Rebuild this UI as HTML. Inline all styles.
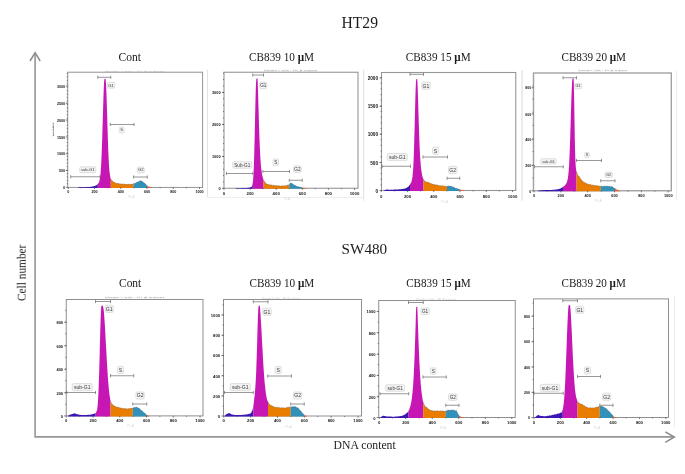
<!DOCTYPE html>
<html lang="en"><head><meta charset="utf-8"><title>Cell cycle analysis – HT29 and SW480</title>
<style>html,body{margin:0;padding:0;background:#fff}body{width:685px;height:474px;overflow:hidden}svg{display:block}</style></head>
<body>
<svg width="685" height="474" viewBox="0 0 685 474">
<defs><filter id="bl" x="-2%" y="-2%" width="104%" height="104%"><feGaussianBlur stdDeviation="0.5"/></filter><filter id="b2" x="-30%" y="-60%" width="160%" height="220%"><feGaussianBlur stdDeviation="0.8"/></filter><filter id="bt" x="-5%" y="-20%" width="110%" height="140%"><feGaussianBlur stdDeviation="0.3"/></filter></defs>
<rect width="685" height="474" fill="#fff"/>
<g filter="url(#bl)" font-family="'Liberation Sans', sans-serif">
<path d="M207.5 69.7 V196.7" stroke="#e9e9e9" stroke-width="0.9"/>
<clipPath id="c67"><rect x="102.5" y="70.7" width="63.5" height="1.6"/></clipPath>
<text clip-path="url(#c67)" x="104.5" y="73" font-size="4" textLength="59.5" lengthAdjust="spacingAndGlyphs" fill="#c4c4c4">Single Cells : PI-A subset</text>
<rect x="67.75" y="72.2" width="134.85" height="115.2" fill="none" stroke="#8e8e8e" stroke-width="0.95"/>
<path d="M78 187.95 L78 187.4 L78.25 187.39 L78.5 187.38 L78.75 187.38 L79 187.37 L79.25 187.36 L79.5 187.36 L79.75 187.35 L80.01 187.34 L80.26 187.34 L80.51 187.33 L80.76 187.32 L81.01 187.32 L81.26 187.31 L81.51 187.3 L81.76 187.29 L82.01 187.29 L82.26 187.28 L82.51 187.27 L82.76 187.27 L83.01 187.26 L83.26 187.25 L83.51 187.24 L83.76 187.23 L84.02 187.23 L84.27 187.22 L84.52 187.21 L84.77 187.2 L85.02 187.19 L85.27 187.18 L85.52 187.17 L85.77 187.16 L86.02 187.15 L86.27 187.14 L86.52 187.13 L86.77 187.12 L87.02 187.11 L87.27 187.1 L87.52 187.09 L87.77 187.07 L88.03 187.06 L88.28 187.05 L88.53 187.03 L88.78 187.01 L89.03 187 L89.28 186.98 L89.53 186.96 L89.78 186.94 L90.03 186.92 L90.28 186.89 L90.53 186.86 L90.78 186.82 L91.03 186.79 L91.28 186.75 L91.53 186.71 L91.78 186.67 L92.04 186.62 L92.29 186.58 L92.54 186.53 L92.79 186.47 L93.04 186.42 L93.29 186.36 L93.54 186.3 L93.79 186.23 L94.04 186.16 L94.29 186.09 L94.54 186.01 L94.79 185.92 L95.04 185.83 L95.29 185.73 L95.54 185.63 L95.79 185.51 L96.05 185.39 L96.3 185.23 L96.55 185.07 L96.8 184.89 L97.05 184.7 L97.3 184.49 L97.55 184.26 L97.8 184.01 L97.8 187.95 Z" fill="#3a18b4"/>
<path d="M97.75 187.95 L97.75 184.07 L98 183.79 L98.25 183.48 L98.5 183.12 L98.75 182.68 L99 182.15 L99.26 181.45 L99.51 180.57 L99.76 179.45 L100.01 178 L100.26 176.15 L100.51 173.8 L100.76 170.83 L101.01 167.16 L101.26 162.68 L101.51 157.36 L101.77 151.21 L102.02 144.36 L102.27 136.45 L102.52 127.98 L102.77 119.5 L103.02 111.16 L103.27 102.88 L103.52 95 L103.77 88.27 L104.02 83.3 L104.28 80.09 L104.53 79.02 L104.78 78.76 L105.03 78.6 L105.28 78.79 L105.53 79.02 L105.78 80.61 L106.03 83.97 L106.28 89 L106.53 95.71 L106.78 103.52 L107.04 111.71 L107.29 119.99 L107.54 128.41 L107.79 136.8 L108.04 144.59 L108.29 151.22 L108.54 156.75 L108.79 161.57 L109.04 165.88 L109.29 169.41 L109.55 171.96 L109.8 173.8 L110.05 175.45 L110.3 177.06 L110.55 178.3 L110.8 178.99 L110.8 187.95 Z" fill="#c617b3"/>
<path d="M110.75 187.95 L110.75 178.9 L111 179.25 L111.25 179.62 L111.5 180.19 L111.75 180.67 L112 180.77 L112.25 180.71 L112.5 180.9 L112.75 181.45 L113 181.95 L113.26 182.08 L113.51 182 L113.76 182.12 L114.01 182.47 L114.26 182.7 L114.51 182.55 L114.76 182.31 L115.01 182.39 L115.26 182.82 L115.51 183.16 L115.76 183.16 L116.01 183.06 L116.26 183.2 L116.51 183.55 L116.76 183.69 L117.01 183.43 L117.26 183.13 L117.51 183.17 L117.77 183.5 L118.02 183.69 L118.27 183.58 L118.52 183.48 L118.77 183.7 L119.02 184.08 L119.27 184.18 L119.52 183.89 L119.77 183.6 L120.02 183.66 L120.27 183.92 L120.52 183.98 L120.77 183.79 L121.02 183.7 L121.27 183.98 L121.52 184.37 L121.77 184.45 L122.02 184.18 L122.28 183.95 L122.53 184.05 L122.78 184.25 L123.03 184.2 L123.28 183.92 L123.53 183.84 L123.78 184.16 L124.03 184.54 L124.28 184.59 L124.53 184.33 L124.78 184.19 L125.03 184.34 L125.28 184.5 L125.53 184.34 L125.78 183.99 L126.03 183.9 L126.28 184.2 L126.53 184.54 L126.79 184.54 L127.04 184.32 L127.29 184.29 L127.54 184.53 L127.79 184.67 L128.04 184.43 L128.29 184.05 L128.54 183.97 L128.79 184.26 L129.04 184.51 L129.29 184.45 L129.54 184.27 L129.79 184.35 L130.04 184.65 L130.29 184.75 L130.54 184.45 L130.79 184.05 L131.04 183.96 L131.3 184.18 L131.55 184.3 L131.8 184.12 L132.05 183.93 L132.3 184.06 L132.55 184.4 L132.8 184.5 L133.05 184.19 L133.3 183.84 L133.55 183.78 L133.55 187.95 Z" fill="#e87d05"/>
<path d="M133.5 187.95 L133.5 183.77 L133.75 183.86 L134 183.84 L134.25 183.53 L134.5 183.21 L134.75 183.24 L135.01 183.52 L135.26 183.6 L135.51 183.28 L135.76 182.88 L136.01 182.76 L136.26 182.84 L136.51 182.73 L136.76 182.32 L137.01 181.99 L137.26 182.06 L137.51 182.34 L137.77 182.38 L138.02 182.08 L138.27 181.78 L138.52 181.77 L138.77 181.86 L139.02 181.67 L139.27 181.2 L139.52 180.87 L139.77 180.95 L140.02 181.19 L140.27 181.17 L140.53 180.87 L140.78 180.67 L141.03 180.8 L141.28 181.2 L141.53 181.24 L141.78 181.02 L142.03 181 L142.28 181.37 L142.53 181.83 L142.78 182 L143.03 181.98 L143.29 182.17 L143.54 182.65 L143.79 183.06 L144.04 183.08 L144.29 182.92 L144.54 183 L144.79 183.42 L145.04 183.83 L145.29 183.95 L145.54 183.97 L145.79 184.28 L146.05 184.88 L146.3 185.34 L146.55 185.4 L146.8 185.29 L147.05 185.61 L147.3 185.82 L147.3 187.95 Z" fill="#3391b8"/>
<path d="M147.25 187.95 L147.25 185.8 L147.5 185.92 L147.76 186.04 L148.01 186.16 L148.26 186.28 L148.51 186.4 L148.77 186.52 L149.02 186.64 L149.27 186.76 L149.52 186.87 L149.78 186.99 L150.03 187.1 L150.28 187.14 L150.53 187.18 L150.79 187.22 L151.04 187.26 L151.29 187.29 L151.54 187.33 L151.8 187.37 L152.05 187.4 L152.05 187.95 Z" fill="#e8602a"/>
<path d="M110.75 178.9 L111 179.25 L111.25 179.62 L111.5 180.19 L111.75 180.67 L112 180.77 L112.25 180.71 L112.5 180.9 L112.75 181.45 L113 181.95 L113.26 182.08 L113.51 182 L113.76 182.12 L114.01 182.47 L114.26 182.7 L114.51 182.55 L114.76 182.31 L115.01 182.39 L115.26 182.82 L115.51 183.16 L115.76 183.16 L116.01 183.06 L116.26 183.2 L116.51 183.55 L116.76 183.69 L117.01 183.43 L117.26 183.13 L117.51 183.17 L117.77 183.5 L118.02 183.69 L118.27 183.58 L118.52 183.48 L118.77 183.7 L119.02 184.08 L119.27 184.18 L119.52 183.89 L119.77 183.6 L120.02 183.66 L120.27 183.92 L120.52 183.98 L120.77 183.79 L121.02 183.7 L121.27 183.98 L121.52 184.37 L121.77 184.45 L122.02 184.18 L122.28 183.95 L122.53 184.05 L122.78 184.25 L123.03 184.2 L123.28 183.92 L123.53 183.84 L123.78 184.16 L124.03 184.54 L124.28 184.59 L124.53 184.33 L124.78 184.19 L125.03 184.34 L125.28 184.5 L125.53 184.34 L125.78 183.99 L126.03 183.9 L126.28 184.2 L126.53 184.54 L126.79 184.54 L127.04 184.32 L127.29 184.29 L127.54 184.53 L127.79 184.67 L128.04 184.43 L128.29 184.05 L128.54 183.97 L128.79 184.26 L129.04 184.51 L129.29 184.45 L129.54 184.27 L129.79 184.35 L130.04 184.65 L130.29 184.75 L130.54 184.45 L130.79 184.05 L131.04 183.96 L131.3 184.18 L131.55 184.3 L131.8 184.12 L132.05 183.93 L132.3 184.06 L132.55 184.4 L132.8 184.5 L133.05 184.19 L133.3 183.84 L133.55 183.78" fill="none" stroke="#5a2a10" stroke-opacity="0.6" stroke-width="0.5"/>
<path d="M133.5 183.77 L133.75 183.86 L134 183.84 L134.25 183.53 L134.5 183.21 L134.75 183.24 L135.01 183.52 L135.26 183.6 L135.51 183.28 L135.76 182.88 L136.01 182.76 L136.26 182.84 L136.51 182.73 L136.76 182.32 L137.01 181.99 L137.26 182.06 L137.51 182.34 L137.77 182.38 L138.02 182.08 L138.27 181.78 L138.52 181.77 L138.77 181.86 L139.02 181.67 L139.27 181.2 L139.52 180.87 L139.77 180.95 L140.02 181.19 L140.27 181.17 L140.53 180.87 L140.78 180.67 L141.03 180.8 L141.28 181.2 L141.53 181.24 L141.78 181.02 L142.03 181 L142.28 181.37 L142.53 181.83 L142.78 182 L143.03 181.98 L143.29 182.17 L143.54 182.65 L143.79 183.06 L144.04 183.08 L144.29 182.92 L144.54 183 L144.79 183.42 L145.04 183.83 L145.29 183.95 L145.54 183.97 L145.79 184.28 L146.05 184.88 L146.3 185.34 L146.55 185.4 L146.8 185.29 L147.05 185.61 L147.3 185.82" fill="none" stroke="#123a50" stroke-opacity="0.6" stroke-width="0.5"/>
<text x="68.25" y="193.09" font-size="3.7" text-anchor="middle" font-weight="bold" fill="#151515">0</text>
<text x="94.5" y="193.09" font-size="3.7" text-anchor="middle" font-weight="bold" fill="#151515">200</text>
<text x="120.75" y="193.09" font-size="3.7" text-anchor="middle" font-weight="bold" fill="#151515">400</text>
<text x="147" y="193.09" font-size="3.7" text-anchor="middle" font-weight="bold" fill="#151515">600</text>
<text x="173.25" y="193.09" font-size="3.7" text-anchor="middle" font-weight="bold" fill="#151515">800</text>
<text x="199.5" y="193.09" font-size="3.7" text-anchor="middle" font-weight="bold" fill="#151515">1000</text>
<text x="65.1" y="87.68" font-size="3.7" text-anchor="end" font-weight="bold" fill="#151515">3000</text>
<text x="65.1" y="104.93" font-size="3.7" text-anchor="end" font-weight="bold" fill="#151515">2500</text>
<text x="65.1" y="121.68" font-size="3.7" text-anchor="end" font-weight="bold" fill="#151515">2000</text>
<text x="65.1" y="138.68" font-size="3.7" text-anchor="end" font-weight="bold" fill="#151515">1500</text>
<text x="65.1" y="155.43" font-size="3.7" text-anchor="end" font-weight="bold" fill="#151515">1000</text>
<text x="65.1" y="172.18" font-size="3.7" text-anchor="end" font-weight="bold" fill="#151515">500</text>
<text x="65.1" y="188.98" font-size="3.7" text-anchor="end" font-weight="bold" fill="#151515">0</text>
<path d="M68.25 187.4 v1.6 M81.38 187.4 v0.9 M94.5 187.4 v1.6 M107.62 187.4 v0.9 M120.75 187.4 v1.6 M133.88 187.4 v0.9 M147 187.4 v1.6 M160.12 187.4 v0.9 M173.25 187.4 v1.6 M186.38 187.4 v0.9 M199.5 187.4 v1.6 M67.75 86 h-2 M67.75 103.25 h-2 M67.75 120 h-2 M67.75 137 h-2 M67.75 153.75 h-2 M67.75 170.5 h-2 M67.75 187.3 h-2 M67.75 183.85 h-1 M67.75 180.4 h-1 M67.75 176.95 h-1 M67.75 173.5 h-1 M67.75 170.05 h-1 M67.75 166.6 h-1 M67.75 163.15 h-1 M67.75 159.7 h-1 M67.75 156.25 h-1 M67.75 152.8 h-1 M67.75 149.35 h-1 M67.75 145.9 h-1 M67.75 142.45 h-1 M67.75 139 h-1 M67.75 135.55 h-1 M67.75 132.1 h-1 M67.75 128.65 h-1 M67.75 125.2 h-1 M67.75 121.75 h-1 M67.75 118.3 h-1 M67.75 114.85 h-1 M67.75 111.4 h-1 M67.75 107.95 h-1 M67.75 104.5 h-1 M67.75 101.05 h-1 M67.75 97.6 h-1 M67.75 94.15 h-1 M67.75 90.7 h-1 M67.75 87.25 h-1 M67.75 83.8 h-1 M67.75 80.35 h-1 M67.75 76.9 h-1 M67.75 73.45 h-1" stroke="#444" stroke-width="0.7" fill="none"/>
<clipPath id="cy67"><rect x="52.65" y="121" width="1.5" height="18"/></clipPath>
<g clip-path="url(#cy67)"><text transform="translate(54 129.7) rotate(-90)" font-size="5.2" textLength="13.6" lengthAdjust="spacingAndGlyphs" text-anchor="middle" fill="#222">Count</text></g>
<text x="131.18" y="198.4" font-size="3.4" text-anchor="middle" fill="#d8d8d8">PI-A</text>
<path d="M97.75 77.25 H110.75 M97.75 75.65 V78.85 M110.75 75.65 V78.85" stroke="#5e5e5e" stroke-width="0.65" fill="none"/>
<rect x="107.2" y="82.33" width="7.6" height="5.84" rx="1.4" fill="#f3f3f3" stroke="#cfcfcf" stroke-width="0.6"/><text x="111" y="86.69" font-size="4.16" text-anchor="middle" fill="#3a3a3a">G1</text>
<path d="M110.25 124.5 H134 M110.25 122.9 V126.1 M134 122.9 V126.1" stroke="#5e5e5e" stroke-width="0.65" fill="none"/>
<rect x="119.27" y="127.08" width="4.96" height="5.84" rx="1.4" fill="#f3f3f3" stroke="#cfcfcf" stroke-width="0.6"/><text x="121.75" y="131.44" font-size="4.16" text-anchor="middle" fill="#3a3a3a">S</text>
<path d="M70.75 176.75 H100 M70.75 175.15 V178.35 M100 175.15 V178.35" stroke="#5e5e5e" stroke-width="0.65" fill="none"/>
<rect x="79.7" y="166.83" width="16.1" height="5.84" rx="1.4" fill="#f3f3f3" stroke="#cfcfcf" stroke-width="0.6"/><text x="87.75" y="171.19" font-size="4.16" text-anchor="middle" fill="#3a3a3a">sub-G1</text>
<path d="M133.5 177 H147.25 M133.5 175.4 V178.6 M147.25 175.4 V178.6" stroke="#5e5e5e" stroke-width="0.65" fill="none"/>
<rect x="137.2" y="167.08" width="7.1" height="5.84" rx="1.4" fill="#f3f3f3" stroke="#cfcfcf" stroke-width="0.6"/><text x="140.75" y="171.44" font-size="4.16" text-anchor="middle" fill="#3a3a3a">G2</text>
<path d="M207.5 69.75 V197.5" stroke="#e2e2e2" stroke-width="0.9"/>
<path d="M363.6 69.75 V197.5" stroke="#e9e9e9" stroke-width="0.9"/>
<path d="M207.5 197.5 H363.6" stroke="#ececec" stroke-width="0.9"/>
<clipPath id="c224"><rect x="261.75" y="69.7" width="57.75" height="1.6"/></clipPath>
<text clip-path="url(#c224)" x="263.75" y="72" font-size="4" textLength="53.75" lengthAdjust="spacingAndGlyphs" fill="#999">Single Cells : PI-A subset</text>
<rect x="224" y="72.25" width="134" height="116" fill="none" stroke="#969696" stroke-width="1.1"/>
<path d="M236 188.8 L236 188.25 L236.25 188.24 L236.5 188.24 L236.75 188.23 L237 188.22 L237.25 188.22 L237.5 188.21 L237.76 188.2 L238.01 188.2 L238.26 188.19 L238.51 188.19 L238.76 188.18 L239.01 188.17 L239.26 188.17 L239.51 188.16 L239.76 188.15 L240.01 188.15 L240.26 188.14 L240.51 188.13 L240.76 188.13 L241.01 188.12 L241.27 188.11 L241.52 188.11 L241.77 188.1 L242.02 188.09 L242.27 188.08 L242.52 188.08 L242.77 188.07 L243.02 188.06 L243.27 188.05 L243.52 188.05 L243.77 188.04 L244.02 188.03 L244.27 188.02 L244.53 188.01 L244.78 188 L245.03 187.99 L245.28 187.98 L245.53 187.97 L245.78 187.96 L246.03 187.95 L246.28 187.94 L246.53 187.93 L246.78 187.91 L247.03 187.9 L247.28 187.88 L247.53 187.87 L247.79 187.85 L248.04 187.83 L248.29 187.78 L248.54 187.74 L248.79 187.69 L249.04 187.64 L249.29 187.59 L249.54 187.54 L249.79 187.48 L250.04 187.42 L250.29 187.35 L250.54 187.27 L250.79 187.18 L251.04 187.07 L251.3 186.92 L251.55 186.71 L251.8 186.4 L252.05 185.93 L252.3 185.23 L252.55 184.16 L252.8 182.58 L252.8 188.8 Z" fill="#3a18b4"/>
<path d="M252.75 188.8 L252.75 182.94 L253 180.82 L253.25 177.83 L253.5 173.75 L253.75 168.38 L254.01 161.56 L254.26 153.27 L254.51 143.58 L254.76 132.78 L255.01 121.34 L255.26 109.91 L255.51 99.24 L255.76 90.14 L256.02 83.34 L256.27 79.4 L256.52 78.58 L256.77 78.54 L257.02 78.5 L257.27 78.48 L257.52 78.46 L257.77 83.96 L258.02 92.16 L258.28 100.55 L258.53 109.04 L258.78 117.42 L259.03 125.52 L259.28 133.13 L259.53 140.11 L259.78 146.36 L260.03 151.84 L260.28 156.56 L260.54 160.56 L260.79 163.92 L261.04 166.74 L261.29 169.1 L261.54 171.08 L261.79 172.77 L262.04 174.22 L262.29 175.47 L262.55 176.57 L262.8 177.54 L263.05 178.36 L263.3 179.44 L263.55 180.07 L263.55 188.8 Z" fill="#c617b3"/>
<path d="M263.5 188.8 L263.5 179.98 L263.75 180.35 L264 180.77 L264.25 181.43 L264.5 182.02 L264.75 182.22 L265 182.19 L265.25 182.39 L265.5 182.94 L265.75 183.5 L266 183.7 L266.26 183.69 L266.51 183.85 L266.76 184.25 L267.01 184.53 L267.26 184.4 L267.51 184.11 L267.76 184.1 L268.01 184.43 L268.26 184.72 L268.51 184.68 L268.76 184.55 L269.01 184.67 L269.26 185.03 L269.51 185.2 L269.76 184.96 L270.01 184.61 L270.26 184.61 L270.51 184.89 L270.76 185.07 L271.01 184.95 L271.27 184.83 L271.52 185.04 L271.77 185.47 L272.02 185.66 L272.27 185.45 L272.52 185.17 L272.77 185.2 L273.02 185.44 L273.27 185.49 L273.52 185.26 L273.77 185.12 L274.02 185.36 L274.27 185.79 L274.52 185.95 L274.77 185.74 L275.02 185.54 L275.27 185.65 L275.52 185.86 L275.77 185.81 L276.02 185.5 L276.27 185.34 L276.53 185.6 L276.78 186 L277.03 186.11 L277.28 185.92 L277.53 185.82 L277.78 186.02 L278.03 186.23 L278.28 186.09 L278.53 185.71 L278.78 185.53 L279.03 185.76 L279.28 186.08 L279.53 186.1 L279.78 185.91 L280.03 185.9 L280.28 186.17 L280.53 186.37 L280.78 186.19 L281.03 185.8 L281.28 185.64 L281.53 185.86 L281.79 186.09 L282.04 186.02 L282.29 185.83 L282.54 185.9 L282.79 186.24 L283.04 186.46 L283.29 186.26 L283.54 185.9 L283.79 185.79 L284.04 185.99 L284.29 186.06 L284.54 185.84 L284.79 185.58 L285.04 185.65 L285.29 185.99 L285.54 186.15 L285.79 185.91 L286.04 185.55 L286.29 185.47 L286.54 185.61 L286.8 185.59 L287.05 185.27 L287.3 184.99 L287.55 185.1 L287.8 185.45 L288.05 185.57 L288.3 185.25 L288.55 184.89 L288.8 184.82 L289.05 184.9 L289.3 184.72 L289.3 188.8 Z" fill="#e87d05"/>
<path d="M289.25 188.8 L289.25 184.78 L289.5 184.34 L289.75 183.7 L290 183.45 L290.25 183.47 L290.5 183.32 L290.76 182.85 L291.01 182.87 L291.26 183.18 L291.51 183.62 L291.76 183.79 L292.01 183.61 L292.26 183.5 L292.51 183.8 L292.76 184.3 L293.01 184.58 L293.27 184.53 L293.52 184.57 L293.77 184.92 L294.02 185.34 L294.27 185.41 L294.52 185.15 L294.77 185.02 L295.02 185.26 L295.27 185.63 L295.52 185.74 L295.77 185.64 L296.03 185.74 L296.28 186.18 L296.53 186.62 L296.78 186.34 L297.03 186.46 L297.28 186.52 L297.53 186.58 L297.78 186.63 L298.03 186.69 L298.28 186.75 L298.54 186.81 L298.79 186.87 L299.04 186.93 L299.29 186.99 L299.54 187.05 L299.79 187.11 L300.04 187.17 L300.29 187.22 L300.54 187.28 L300.79 187.34 L301.05 187.4 L301.3 187.46 L301.55 187.5 L301.8 187.55 L302.05 187.6 L302.3 187.64 L302.3 188.8 Z" fill="#3391b8"/>
<path d="M302.25 188.8 L302.25 187.63 L302.5 187.68 L302.76 187.72 L303.01 187.77 L303.26 187.82 L303.52 187.86 L303.77 187.91 L304.02 187.95 L304.28 187.99 L304.53 188.03 L304.78 188.07 L305.04 188.11 L305.29 188.14 L305.54 188.18 L305.8 188.22 L306.05 188.25 L306.05 188.8 Z" fill="#e8602a"/>
<path d="M263.5 179.98 L263.75 180.35 L264 180.77 L264.25 181.43 L264.5 182.02 L264.75 182.22 L265 182.19 L265.25 182.39 L265.5 182.94 L265.75 183.5 L266 183.7 L266.26 183.69 L266.51 183.85 L266.76 184.25 L267.01 184.53 L267.26 184.4 L267.51 184.11 L267.76 184.1 L268.01 184.43 L268.26 184.72 L268.51 184.68 L268.76 184.55 L269.01 184.67 L269.26 185.03 L269.51 185.2 L269.76 184.96 L270.01 184.61 L270.26 184.61 L270.51 184.89 L270.76 185.07 L271.01 184.95 L271.27 184.83 L271.52 185.04 L271.77 185.47 L272.02 185.66 L272.27 185.45 L272.52 185.17 L272.77 185.2 L273.02 185.44 L273.27 185.49 L273.52 185.26 L273.77 185.12 L274.02 185.36 L274.27 185.79 L274.52 185.95 L274.77 185.74 L275.02 185.54 L275.27 185.65 L275.52 185.86 L275.77 185.81 L276.02 185.5 L276.27 185.34 L276.53 185.6 L276.78 186 L277.03 186.11 L277.28 185.92 L277.53 185.82 L277.78 186.02 L278.03 186.23 L278.28 186.09 L278.53 185.71 L278.78 185.53 L279.03 185.76 L279.28 186.08 L279.53 186.1 L279.78 185.91 L280.03 185.9 L280.28 186.17 L280.53 186.37 L280.78 186.19 L281.03 185.8 L281.28 185.64 L281.53 185.86 L281.79 186.09 L282.04 186.02 L282.29 185.83 L282.54 185.9 L282.79 186.24 L283.04 186.46 L283.29 186.26 L283.54 185.9 L283.79 185.79 L284.04 185.99 L284.29 186.06 L284.54 185.84 L284.79 185.58 L285.04 185.65 L285.29 185.99 L285.54 186.15 L285.79 185.91 L286.04 185.55 L286.29 185.47 L286.54 185.61 L286.8 185.59 L287.05 185.27 L287.3 184.99 L287.55 185.1 L287.8 185.45 L288.05 185.57 L288.3 185.25 L288.55 184.89 L288.8 184.82 L289.05 184.9 L289.3 184.72" fill="none" stroke="#5a2a10" stroke-opacity="0.6" stroke-width="0.5"/>
<path d="M289.25 184.78 L289.5 184.34 L289.75 183.7 L290 183.45 L290.25 183.47 L290.5 183.32 L290.76 182.85 L291.01 182.87 L291.26 183.18 L291.51 183.62 L291.76 183.79 L292.01 183.61 L292.26 183.5 L292.51 183.8 L292.76 184.3 L293.01 184.58 L293.27 184.53 L293.52 184.57 L293.77 184.92 L294.02 185.34 L294.27 185.41 L294.52 185.15 L294.77 185.02 L295.02 185.26 L295.27 185.63 L295.52 185.74 L295.77 185.64 L296.03 185.74 L296.28 186.18 L296.53 186.62 L296.78 186.34 L297.03 186.46 L297.28 186.52 L297.53 186.58 L297.78 186.63 L298.03 186.69 L298.28 186.75 L298.54 186.81 L298.79 186.87 L299.04 186.93 L299.29 186.99 L299.54 187.05 L299.79 187.11 L300.04 187.17 L300.29 187.22 L300.54 187.28 L300.79 187.34 L301.05 187.4 L301.3 187.46 L301.55 187.5 L301.8 187.55 L302.05 187.6 L302.3 187.64" fill="none" stroke="#123a50" stroke-opacity="0.6" stroke-width="0.5"/>
<text x="224" y="195.31" font-size="4.3" text-anchor="middle" font-weight="bold" fill="#151515">0</text>
<text x="250.1" y="195.31" font-size="4.3" text-anchor="middle" font-weight="bold" fill="#151515">200</text>
<text x="276.2" y="195.31" font-size="4.3" text-anchor="middle" font-weight="bold" fill="#151515">400</text>
<text x="302.3" y="195.31" font-size="4.3" text-anchor="middle" font-weight="bold" fill="#151515">600</text>
<text x="328.4" y="195.31" font-size="4.3" text-anchor="middle" font-weight="bold" fill="#151515">800</text>
<text x="354.5" y="195.31" font-size="4.3" text-anchor="middle" font-weight="bold" fill="#151515">1000</text>
<text x="220.6" y="94.25" font-size="3.9" text-anchor="end" font-weight="bold" fill="#151515">3000</text>
<text x="220.6" y="126.25" font-size="3.9" text-anchor="end" font-weight="bold" fill="#151515">2000</text>
<text x="220.6" y="158.25" font-size="3.9" text-anchor="end" font-weight="bold" fill="#151515">1000</text>
<text x="220.6" y="190.15" font-size="3.9" text-anchor="end" font-weight="bold" fill="#151515">0</text>
<path d="M224 188.25 v1.6 M237.05 188.25 v0.9 M250.1 188.25 v1.6 M263.15 188.25 v0.9 M276.2 188.25 v1.6 M289.25 188.25 v0.9 M302.3 188.25 v1.6 M315.35 188.25 v0.9 M328.4 188.25 v1.6 M341.45 188.25 v0.9 M354.5 188.25 v1.6 M224 92.5 h-2 M224 124.5 h-2 M224 156.5 h-2 M224 188.25 h-2 M224 182 h-1 M224 175.6 h-1 M224 169.2 h-1 M224 162.8 h-1 M224 156.4 h-1 M224 150 h-1 M224 143.6 h-1 M224 137.2 h-1 M224 130.8 h-1 M224 124.4 h-1 M224 118 h-1 M224 111.6 h-1 M224 105.2 h-1 M224 98.8 h-1 M224 92.4 h-1 M224 86 h-1 M224 79.6 h-1 M224 73.2 h-1" stroke="#444" stroke-width="0.7" fill="none"/>
<text x="287" y="200.4" font-size="3.4" text-anchor="middle" fill="#d8d8d8">PI-A</text>
<path d="M252.75 75 H263.5 M252.75 73.4 V76.6 M263.5 73.4 V76.6" stroke="#5e5e5e" stroke-width="0.65" fill="none"/>
<rect x="259.7" y="82.09" width="7.1" height="6.57" rx="1.4" fill="#f3f3f3" stroke="#cfcfcf" stroke-width="0.6"/><text x="263.25" y="87" font-size="4.68" text-anchor="middle" fill="#3a3a3a">G1</text>
<path d="M262.75 171.5 H289.5 M262.75 169.9 V173.1 M289.5 169.9 V173.1" stroke="#5e5e5e" stroke-width="0.65" fill="none"/>
<rect x="272.96" y="158.97" width="5.58" height="6.57" rx="1.4" fill="#f3f3f3" stroke="#cfcfcf" stroke-width="0.6"/><text x="275.75" y="163.87" font-size="4.68" text-anchor="middle" fill="#3a3a3a">S</text>
<path d="M226.5 173.5 H252.75 M226.5 171.9 V175.1 M252.75 171.9 V175.1" stroke="#5e5e5e" stroke-width="0.65" fill="none"/>
<rect x="232.7" y="161.72" width="19.1" height="6.57" rx="1.4" fill="#f3f3f3" stroke="#cfcfcf" stroke-width="0.6"/><text x="242.25" y="166.62" font-size="4.68" text-anchor="middle" fill="#3a3a3a">Sub-G1</text>
<path d="M289.25 180.25 H302.25 M289.25 178.65 V181.85 M302.25 178.65 V181.85" stroke="#5e5e5e" stroke-width="0.65" fill="none"/>
<rect x="293.45" y="165.84" width="7.85" height="6.57" rx="1.4" fill="#f3f3f3" stroke="#cfcfcf" stroke-width="0.6"/><text x="297.38" y="170.75" font-size="4.68" text-anchor="middle" fill="#3a3a3a">G2</text>
<path d="M363.6 70 V200.9" stroke="#e2e2e2" stroke-width="0.9"/>
<path d="M522 70 V200.9" stroke="#e9e9e9" stroke-width="0.9"/>
<rect x="381.5" y="72.5" width="134.25" height="118" fill="none" stroke="#969696" stroke-width="1.1"/>
<path d="M384 191.05 L384 190.5 L384.25 190.41 L384.5 190.32 L384.75 190.23 L385 190.14 L385.25 190.05 L385.5 189.96 L385.75 189.87 L386 189.78 L386.25 189.69 L386.5 189.6 L386.76 189.6 L387.01 189.61 L387.26 189.61 L387.51 189.62 L387.76 189.62 L388.01 189.63 L388.26 189.63 L388.51 189.63 L388.76 189.64 L389.01 189.64 L389.26 189.65 L389.51 189.65 L389.76 189.66 L390.01 189.66 L390.26 189.67 L390.51 189.67 L390.76 189.67 L391.01 189.68 L391.26 189.68 L391.51 189.69 L391.76 189.69 L392.02 189.69 L392.27 189.68 L392.52 189.67 L392.77 189.66 L393.02 189.65 L393.27 189.64 L393.52 189.63 L393.77 189.62 L394.02 189.61 L394.27 189.6 L394.52 189.59 L394.77 189.58 L395.02 189.57 L395.27 189.56 L395.52 189.55 L395.77 189.54 L396.02 189.52 L396.27 189.51 L396.52 189.5 L396.77 189.49 L397.02 189.48 L397.28 189.46 L397.53 189.45 L397.78 189.44 L398.03 189.42 L398.28 189.41 L398.53 189.4 L398.78 189.38 L399.03 189.36 L399.28 189.35 L399.53 189.33 L399.78 189.31 L400.03 189.3 L400.28 189.27 L400.53 189.24 L400.78 189.21 L401.03 189.18 L401.28 189.15 L401.53 189.12 L401.78 189.09 L402.03 189.05 L402.29 189.02 L402.54 188.98 L402.79 188.94 L403.04 188.9 L403.29 188.85 L403.54 188.8 L403.79 188.75 L404.04 188.7 L404.29 188.64 L404.54 188.58 L404.79 188.52 L405.04 188.45 L405.29 188.37 L405.54 188.29 L405.79 188.21 L406.04 188.11 L406.29 187.97 L406.54 187.83 L406.79 187.67 L407.04 187.51 L407.29 187.33 L407.55 187.15 L407.8 186.95 L408.05 186.74 L408.3 186.51 L408.55 186.62 L408.8 186.42 L409.05 185.83 L409.3 185.22 L409.55 184.93 L409.8 184.81 L410.05 184.45 L410.05 191.05 Z" fill="#3a18b4"/>
<path d="M410 191.05 L410 184.55 L410.25 183.94 L410.5 183.33 L410.75 183.08 L411 182.96 L411.25 182.51 L411.51 181.56 L411.76 180.44 L412.01 179.42 L412.26 178.26 L412.51 176.46 L412.76 173.84 L413.01 170.64 L413.26 166.97 L413.51 162.41 L413.76 156.41 L414.01 148.89 L414.27 140.31 L414.52 131.1 L414.77 121.37 L415.02 111.22 L415.27 101.27 L415.52 92.53 L415.77 85.75 L416.02 80.99 L416.27 79.25 L416.52 79.02 L416.77 78.93 L417.03 79.14 L417.28 79.3 L417.53 83.88 L417.78 90.76 L418.03 98.42 L418.28 106.81 L418.53 115.34 L418.78 123.42 L419.03 130.96 L419.28 138.14 L419.54 144.88 L419.79 150.7 L420.04 155.33 L420.29 159.06 L420.54 162.4 L420.79 165.5 L421.04 168.08 L421.29 169.97 L421.54 171.51 L421.79 173.13 L422.04 174.8 L422.3 176.11 L422.55 176.9 L422.8 177.47 L423.05 178.22 L423.3 179.01 L423.55 179.59 L423.55 191.05 Z" fill="#c617b3"/>
<path d="M423.5 191.05 L423.5 179.5 L423.75 179.78 L424 179.95 L424.25 180.41 L424.5 181.12 L424.75 181.62 L425 181.68 L425.25 181.58 L425.5 181.72 L425.75 182.05 L426.01 182.18 L426.26 181.97 L426.51 181.76 L426.76 181.93 L427.01 182.33 L427.26 182.53 L427.51 182.35 L427.76 182.11 L428.01 182.16 L428.26 182.56 L428.51 182.68 L428.76 182.47 L429.01 182.34 L429.26 182.61 L429.51 183.09 L429.76 183.33 L430.01 183.27 L430.26 183.27 L430.51 183.56 L430.77 183.91 L431.02 183.93 L431.27 183.63 L431.52 183.46 L431.77 183.68 L432.02 184.04 L432.27 184.15 L432.52 184.02 L432.77 184.06 L433.02 184.41 L433.27 184.77 L433.52 184.74 L433.77 184.42 L434.02 184.28 L434.27 184.47 L434.52 184.73 L434.77 184.7 L435.02 184.51 L435.27 184.58 L435.53 184.98 L435.78 185.33 L436.03 185.27 L436.28 184.98 L436.53 184.89 L436.78 185.11 L437.03 185.27 L437.28 185.12 L437.53 184.89 L437.78 184.99 L438.03 185.41 L438.28 185.73 L438.53 185.67 L438.78 185.44 L439.03 185.45 L439.28 185.7 L439.53 185.79 L439.78 185.55 L440.04 185.29 L440.29 185.38 L440.54 185.78 L440.79 186.04 L441.04 185.94 L441.29 185.77 L441.54 185.89 L441.79 186.16 L442.04 186.2 L442.29 185.88 L442.54 185.6 L442.79 185.7 L443.04 186.05 L443.29 186.22 L443.54 186.09 L443.79 186 L444.04 186.22 L444.29 186.54 L444.54 186.55 L444.8 186.21 L445.05 185.95 L445.3 186.06 L445.55 186.35 L445.8 186.42 L446.05 186.24 L446.3 186.2 L446.55 186.51 L446.8 186.86 L447.05 186.84 L447.05 191.05 Z" fill="#e87d05"/>
<path d="M447 191.05 L447 186.9 L447.25 186.52 L447.5 186.16 L447.75 186.15 L448 186.3 L448.25 186.23 L448.51 185.91 L448.76 185.75 L449.01 185.97 L449.26 186.29 L449.51 186.27 L449.76 186.06 L450.01 185.94 L450.26 186.14 L450.51 186.39 L450.76 186.35 L451.02 186.11 L451.27 186.12 L451.52 186.51 L451.77 186.95 L452.02 187.04 L452.27 186.87 L452.52 186.87 L452.77 187.15 L453.02 187.36 L453.27 187.24 L453.53 186.98 L453.78 187.01 L454.03 187.42 L454.28 187.81 L454.53 187.86 L454.78 187.75 L455.03 187.88 L455.28 188.25 L455.53 188.46 L455.78 188.28 L456.04 188 L456.29 188.06 L456.54 188.51 L456.79 188.62 L457.04 188.71 L457.29 188.78 L457.54 188.86 L457.79 188.93 L458.04 189 L458.29 189.08 L458.55 189.15 L458.8 189.22 L459.05 189.3 L459.3 189.37 L459.55 189.44 L459.8 189.51 L459.8 191.05 Z" fill="#3391b8"/>
<path d="M459.75 191.05 L459.75 189.5 L460 189.56 L460.26 189.62 L460.51 189.69 L460.76 189.75 L461.01 189.81 L461.27 189.87 L461.52 189.94 L461.77 190 L462.03 190.06 L462.28 190.12 L462.53 190.18 L462.79 190.25 L463.04 190.31 L463.29 190.36 L463.54 190.41 L463.8 190.46 L464.05 190.5 L464.05 191.05 Z" fill="#e8602a"/>
<path d="M423.5 179.5 L423.75 179.78 L424 179.95 L424.25 180.41 L424.5 181.12 L424.75 181.62 L425 181.68 L425.25 181.58 L425.5 181.72 L425.75 182.05 L426.01 182.18 L426.26 181.97 L426.51 181.76 L426.76 181.93 L427.01 182.33 L427.26 182.53 L427.51 182.35 L427.76 182.11 L428.01 182.16 L428.26 182.56 L428.51 182.68 L428.76 182.47 L429.01 182.34 L429.26 182.61 L429.51 183.09 L429.76 183.33 L430.01 183.27 L430.26 183.27 L430.51 183.56 L430.77 183.91 L431.02 183.93 L431.27 183.63 L431.52 183.46 L431.77 183.68 L432.02 184.04 L432.27 184.15 L432.52 184.02 L432.77 184.06 L433.02 184.41 L433.27 184.77 L433.52 184.74 L433.77 184.42 L434.02 184.28 L434.27 184.47 L434.52 184.73 L434.77 184.7 L435.02 184.51 L435.27 184.58 L435.53 184.98 L435.78 185.33 L436.03 185.27 L436.28 184.98 L436.53 184.89 L436.78 185.11 L437.03 185.27 L437.28 185.12 L437.53 184.89 L437.78 184.99 L438.03 185.41 L438.28 185.73 L438.53 185.67 L438.78 185.44 L439.03 185.45 L439.28 185.7 L439.53 185.79 L439.78 185.55 L440.04 185.29 L440.29 185.38 L440.54 185.78 L440.79 186.04 L441.04 185.94 L441.29 185.77 L441.54 185.89 L441.79 186.16 L442.04 186.2 L442.29 185.88 L442.54 185.6 L442.79 185.7 L443.04 186.05 L443.29 186.22 L443.54 186.09 L443.79 186 L444.04 186.22 L444.29 186.54 L444.54 186.55 L444.8 186.21 L445.05 185.95 L445.3 186.06 L445.55 186.35 L445.8 186.42 L446.05 186.24 L446.3 186.2 L446.55 186.51 L446.8 186.86 L447.05 186.84" fill="none" stroke="#5a2a10" stroke-opacity="0.6" stroke-width="0.5"/>
<path d="M447 186.9 L447.25 186.52 L447.5 186.16 L447.75 186.15 L448 186.3 L448.25 186.23 L448.51 185.91 L448.76 185.75 L449.01 185.97 L449.26 186.29 L449.51 186.27 L449.76 186.06 L450.01 185.94 L450.26 186.14 L450.51 186.39 L450.76 186.35 L451.02 186.11 L451.27 186.12 L451.52 186.51 L451.77 186.95 L452.02 187.04 L452.27 186.87 L452.52 186.87 L452.77 187.15 L453.02 187.36 L453.27 187.24 L453.53 186.98 L453.78 187.01 L454.03 187.42 L454.28 187.81 L454.53 187.86 L454.78 187.75 L455.03 187.88 L455.28 188.25 L455.53 188.46 L455.78 188.28 L456.04 188 L456.29 188.06 L456.54 188.51 L456.79 188.62 L457.04 188.71 L457.29 188.78 L457.54 188.86 L457.79 188.93 L458.04 189 L458.29 189.08 L458.55 189.15 L458.8 189.22 L459.05 189.3 L459.3 189.37 L459.55 189.44 L459.8 189.51" fill="none" stroke="#123a50" stroke-opacity="0.6" stroke-width="0.5"/>
<text x="381.25" y="197.51" font-size="4.3" text-anchor="middle" font-weight="bold" fill="#151515">0</text>
<text x="407.5" y="197.51" font-size="4.3" text-anchor="middle" font-weight="bold" fill="#151515">200</text>
<text x="433.75" y="197.51" font-size="4.3" text-anchor="middle" font-weight="bold" fill="#151515">400</text>
<text x="460" y="197.51" font-size="4.3" text-anchor="middle" font-weight="bold" fill="#151515">600</text>
<text x="486.25" y="197.51" font-size="4.3" text-anchor="middle" font-weight="bold" fill="#151515">800</text>
<text x="512.5" y="197.51" font-size="4.3" text-anchor="middle" font-weight="bold" fill="#151515">1000</text>
<text x="378.1" y="80.04" font-size="4.7" text-anchor="end" font-weight="bold" fill="#151515">2000</text>
<text x="378.1" y="108.29" font-size="4.7" text-anchor="end" font-weight="bold" fill="#151515">1500</text>
<text x="378.1" y="136.29" font-size="4.7" text-anchor="end" font-weight="bold" fill="#151515">1000</text>
<text x="378.1" y="164.54" font-size="4.7" text-anchor="end" font-weight="bold" fill="#151515">500</text>
<text x="378.1" y="192.64" font-size="4.7" text-anchor="end" font-weight="bold" fill="#151515">0</text>
<path d="M381.25 190.5 v1.6 M394.38 190.5 v0.9 M407.5 190.5 v1.6 M420.62 190.5 v0.9 M433.75 190.5 v1.6 M446.88 190.5 v0.9 M460 190.5 v1.6 M473.12 190.5 v0.9 M486.25 190.5 v1.6 M499.38 190.5 v0.9 M512.5 190.5 v1.6 M381.5 78 h-2 M381.5 106.25 h-2 M381.5 134.25 h-2 M381.5 162.5 h-2 M381.5 190.5 h-2 M381.5 184.95 h-1 M381.5 179.3 h-1 M381.5 173.65 h-1 M381.5 168 h-1 M381.5 162.35 h-1 M381.5 156.7 h-1 M381.5 151.05 h-1 M381.5 145.4 h-1 M381.5 139.75 h-1 M381.5 134.1 h-1 M381.5 128.45 h-1 M381.5 122.8 h-1 M381.5 117.15 h-1 M381.5 111.5 h-1 M381.5 105.85 h-1 M381.5 100.2 h-1 M381.5 94.55 h-1 M381.5 88.9 h-1 M381.5 83.25 h-1 M381.5 77.6 h-1" stroke="#444" stroke-width="0.7" fill="none"/>
<text x="444.62" y="202.6" font-size="3.4" text-anchor="middle" fill="#d8d8d8">PI-A</text>
<path d="M410 74.3 H423.5 M410 72.7 V75.9 M423.5 72.7 V75.9" stroke="#5e5e5e" stroke-width="0.65" fill="none"/>
<rect x="421.7" y="82.17" width="8.6" height="7.15" rx="1.4" fill="#f3f3f3" stroke="#cfcfcf" stroke-width="0.6"/><text x="426" y="87.51" font-size="5.1" text-anchor="middle" fill="#3a3a3a">G1</text>
<path d="M423 157 H447.5 M423 155.4 V158.6 M447.5 155.4 V158.6" stroke="#5e5e5e" stroke-width="0.65" fill="none"/>
<rect x="432.46" y="147.17" width="6.08" height="7.15" rx="1.4" fill="#f3f3f3" stroke="#cfcfcf" stroke-width="0.6"/><text x="435.5" y="152.51" font-size="5.1" text-anchor="middle" fill="#3a3a3a">S</text>
<path d="M382 166.25 H410.5 M382 164.65 V167.85 M410.5 164.65 V167.85" stroke="#5e5e5e" stroke-width="0.65" fill="none"/>
<rect x="387.2" y="153.42" width="20.1" height="7.15" rx="1.4" fill="#f3f3f3" stroke="#cfcfcf" stroke-width="0.6"/><text x="397.25" y="158.76" font-size="5.1" text-anchor="middle" fill="#3a3a3a">sub-G1</text>
<path d="M447 178.25 H459.75 M447 176.65 V179.85 M459.75 176.65 V179.85" stroke="#5e5e5e" stroke-width="0.65" fill="none"/>
<rect x="448.45" y="166.3" width="8.6" height="7.15" rx="1.4" fill="#f3f3f3" stroke="#cfcfcf" stroke-width="0.6"/><text x="452.75" y="171.64" font-size="5.1" text-anchor="middle" fill="#3a3a3a">G2</text>
<path d="M522 70.5 V200.5" stroke="#e2e2e2" stroke-width="0.9"/>
<path d="M676.6 70.5 V200.5" stroke="#e9e9e9" stroke-width="0.9"/>
<clipPath id="c533"><rect x="576" y="69.7" width="53" height="1.6"/></clipPath>
<text clip-path="url(#c533)" x="578" y="72" font-size="4" textLength="49" lengthAdjust="spacingAndGlyphs" fill="#999">Single Cells : PI-A subset</text>
<rect x="533.5" y="73" width="137.8" height="117.75" fill="none" stroke="#a2a2a2" stroke-width="1.4"/>
<path d="M538 191.3 L538 190.75 L538.25 190.71 L538.5 190.67 L538.75 190.63 L539 190.59 L539.25 190.56 L539.5 190.52 L539.75 190.48 L540 190.44 L540.25 190.41 L540.5 190.37 L540.76 190.33 L541.01 190.29 L541.26 190.25 L541.51 190.21 L541.76 190.18 L542.01 190.14 L542.26 190.14 L542.51 190.13 L542.76 190.13 L543.01 190.13 L543.26 190.12 L543.51 190.12 L543.76 190.12 L544.01 190.11 L544.26 190.11 L544.51 190.1 L544.76 190.1 L545.01 190.1 L545.26 190.09 L545.51 190.09 L545.77 190.08 L546.02 190.08 L546.27 190.08 L546.52 190.07 L546.77 190.07 L547.02 190.06 L547.27 190.06 L547.52 190.05 L547.77 190.04 L548.02 190.04 L548.27 190.03 L548.52 190.03 L548.77 190.02 L549.02 190.01 L549.27 190.01 L549.52 190 L549.77 189.99 L550.02 189.98 L550.27 189.97 L550.52 189.97 L550.78 189.96 L551.03 189.95 L551.28 189.94 L551.53 189.93 L551.78 189.91 L552.03 189.9 L552.28 189.89 L552.53 189.87 L552.78 189.85 L553.03 189.83 L553.28 189.81 L553.53 189.79 L553.78 189.77 L554.03 189.75 L554.28 189.73 L554.53 189.7 L554.78 189.68 L555.03 189.65 L555.28 189.62 L555.53 189.59 L555.79 189.56 L556.04 189.53 L556.29 189.49 L556.54 189.46 L556.79 189.42 L557.04 189.37 L557.29 189.33 L557.54 189.28 L557.79 189.24 L558.04 189.18 L558.29 189.13 L558.54 189.07 L558.79 189.01 L559.04 188.94 L559.29 188.87 L559.54 188.8 L559.79 188.72 L560.04 188.63 L560.29 188.53 L560.54 188.42 L560.8 188.3 L561.05 188.18 L561.3 188.05 L561.55 187.91 L561.8 187.76 L562.05 187.61 L562.3 187.45 L562.55 187.27 L562.8 187.09 L563.05 186.9 L563.05 191.3 Z" fill="#3a18b4"/>
<path d="M563 191.3 L563 186.94 L563.25 186.73 L563.5 186.56 L563.75 186.37 L564 186.17 L564.25 185.95 L564.51 185.72 L564.76 185.47 L565.01 185.2 L565.26 184.9 L565.51 184.59 L565.76 184.24 L566.01 183.86 L566.26 183.43 L566.51 182.94 L566.76 182.37 L567.01 181.7 L567.27 180.89 L567.52 179.9 L567.77 178.66 L568.02 177.11 L568.27 175.15 L568.52 172.7 L568.77 169.66 L569.02 165.92 L569.27 161.42 L569.52 156.08 L569.77 149.91 L570.03 142.94 L570.28 135.27 L570.53 127.08 L570.78 118.61 L571.03 110.15 L571.28 102.04 L571.53 94.63 L571.78 88.24 L572.03 83.16 L572.28 79.57 L572.54 78.47 L572.79 78.48 L573.04 78.49 L573.29 78.42 L573.54 78.35 L573.79 82.04 L574.04 92.63 L574.29 107.51 L574.54 123.6 L574.79 138.23 L575.04 149.86 L575.3 158.14 L575.55 163.6 L575.8 167.06 L576.05 169.28 L576.3 170.84 L576.55 171.99 L576.55 191.3 Z" fill="#c617b3"/>
<path d="M576.5 191.3 L576.5 171.82 L576.75 172.62 L577 172.96 L577.25 173.93 L577.5 174.75 L577.75 175.13 L578 175.32 L578.25 175.71 L578.5 176.27 L578.75 176.62 L579.01 176.58 L579.26 176.48 L579.51 176.74 L579.76 177.56 L580.01 178.22 L580.26 178.52 L580.51 178.74 L580.76 179.22 L581.01 179.84 L581.26 180.17 L581.51 180.13 L581.76 180.09 L582.01 180.41 L582.26 180.96 L582.51 181.31 L582.76 181.36 L583.01 181.45 L583.26 181.86 L583.51 182.35 L583.76 182.51 L584.02 182.31 L584.27 182.19 L584.52 182.43 L584.77 182.81 L585.02 182.96 L585.27 182.87 L585.52 182.94 L585.77 183.35 L586.02 183.8 L586.27 183.9 L586.52 183.67 L586.77 183.54 L587.02 183.74 L587.27 184 L587.52 183.98 L587.77 183.77 L588.02 183.8 L588.27 184.2 L588.52 184.61 L588.78 184.64 L589.03 184.42 L589.28 184.37 L589.53 184.6 L589.78 184.78 L590.03 184.64 L590.28 184.36 L590.53 184.39 L590.78 184.79 L591.03 185.14 L591.28 185.14 L591.53 184.96 L591.78 185 L592.03 185.27 L592.28 185.41 L592.53 185.17 L592.78 184.85 L593.03 184.88 L593.28 185.23 L593.54 185.5 L593.79 185.43 L594.04 185.3 L594.29 185.44 L594.54 185.77 L594.79 185.87 L595.04 185.59 L595.29 185.27 L595.54 185.3 L595.79 185.61 L596.04 185.76 L596.29 185.63 L596.54 185.53 L596.79 185.76 L597.04 186.15 L597.29 186.24 L597.54 185.96 L597.79 185.68 L598.04 185.75 L598.29 186 L598.55 186.04 L598.8 185.84 L599.05 185.76 L599.3 186.06 L599.55 186.46 L599.8 186.54 L600.05 186.28 L600.3 186.08 L600.55 186.2 L600.8 186.41 L600.8 191.3 Z" fill="#e87d05"/>
<path d="M600.75 191.3 L600.75 186.38 L601 186.38 L601.25 186.08 L601.5 185.91 L601.75 186.14 L602 186.53 L602.26 186.63 L602.51 186.4 L602.76 186.22 L603.01 186.34 L603.26 186.52 L603.51 186.4 L603.76 186.03 L604.01 185.86 L604.26 186.1 L604.51 186.45 L604.76 186.49 L605.01 186.28 L605.27 186.21 L605.52 186.43 L605.77 186.61 L606.02 186.42 L606.27 186.02 L606.52 185.86 L606.77 186.1 L607.02 186.36 L607.27 186.33 L607.52 186.13 L607.77 186.16 L608.03 186.47 L608.28 186.7 L608.53 186.51 L608.78 186.16 L609.03 186.09 L609.28 186.34 L609.53 186.55 L609.78 186.46 L610.03 186.3 L610.28 186.46 L610.53 186.87 L610.79 187.09 L611.04 186.9 L611.29 186.6 L611.54 186.59 L611.79 186.83 L612.04 186.94 L612.29 186.85 L612.54 186.8 L612.79 187.12 L613.04 187.66 L613.29 187.97 L613.54 187.89 L613.8 187.77 L614.05 187.95 L614.3 188.29 L614.55 188.4 L614.8 188.22 L615.05 188.15 L615.05 191.3 Z" fill="#3391b8"/>
<path d="M615 191.3 L615 188.14 L615.25 188.39 L615.5 188.79 L615.76 188.91 L616.01 189.03 L616.26 189.15 L616.51 189.27 L616.77 189.39 L617.02 189.51 L617.27 189.63 L617.52 189.75 L617.78 189.87 L618.03 189.99 L618.28 190.11 L618.53 190.23 L618.79 190.35 L619.04 190.46 L619.29 190.54 L619.54 190.61 L619.8 190.69 L620.05 190.75 L620.05 191.3 Z" fill="#e8602a"/>
<path d="M576.5 171.82 L576.75 172.62 L577 172.96 L577.25 173.93 L577.5 174.75 L577.75 175.13 L578 175.32 L578.25 175.71 L578.5 176.27 L578.75 176.62 L579.01 176.58 L579.26 176.48 L579.51 176.74 L579.76 177.56 L580.01 178.22 L580.26 178.52 L580.51 178.74 L580.76 179.22 L581.01 179.84 L581.26 180.17 L581.51 180.13 L581.76 180.09 L582.01 180.41 L582.26 180.96 L582.51 181.31 L582.76 181.36 L583.01 181.45 L583.26 181.86 L583.51 182.35 L583.76 182.51 L584.02 182.31 L584.27 182.19 L584.52 182.43 L584.77 182.81 L585.02 182.96 L585.27 182.87 L585.52 182.94 L585.77 183.35 L586.02 183.8 L586.27 183.9 L586.52 183.67 L586.77 183.54 L587.02 183.74 L587.27 184 L587.52 183.98 L587.77 183.77 L588.02 183.8 L588.27 184.2 L588.52 184.61 L588.78 184.64 L589.03 184.42 L589.28 184.37 L589.53 184.6 L589.78 184.78 L590.03 184.64 L590.28 184.36 L590.53 184.39 L590.78 184.79 L591.03 185.14 L591.28 185.14 L591.53 184.96 L591.78 185 L592.03 185.27 L592.28 185.41 L592.53 185.17 L592.78 184.85 L593.03 184.88 L593.28 185.23 L593.54 185.5 L593.79 185.43 L594.04 185.3 L594.29 185.44 L594.54 185.77 L594.79 185.87 L595.04 185.59 L595.29 185.27 L595.54 185.3 L595.79 185.61 L596.04 185.76 L596.29 185.63 L596.54 185.53 L596.79 185.76 L597.04 186.15 L597.29 186.24 L597.54 185.96 L597.79 185.68 L598.04 185.75 L598.29 186 L598.55 186.04 L598.8 185.84 L599.05 185.76 L599.3 186.06 L599.55 186.46 L599.8 186.54 L600.05 186.28 L600.3 186.08 L600.55 186.2 L600.8 186.41" fill="none" stroke="#5a2a10" stroke-opacity="0.6" stroke-width="0.5"/>
<path d="M600.75 186.38 L601 186.38 L601.25 186.08 L601.5 185.91 L601.75 186.14 L602 186.53 L602.26 186.63 L602.51 186.4 L602.76 186.22 L603.01 186.34 L603.26 186.52 L603.51 186.4 L603.76 186.03 L604.01 185.86 L604.26 186.1 L604.51 186.45 L604.76 186.49 L605.01 186.28 L605.27 186.21 L605.52 186.43 L605.77 186.61 L606.02 186.42 L606.27 186.02 L606.52 185.86 L606.77 186.1 L607.02 186.36 L607.27 186.33 L607.52 186.13 L607.77 186.16 L608.03 186.47 L608.28 186.7 L608.53 186.51 L608.78 186.16 L609.03 186.09 L609.28 186.34 L609.53 186.55 L609.78 186.46 L610.03 186.3 L610.28 186.46 L610.53 186.87 L610.79 187.09 L611.04 186.9 L611.29 186.6 L611.54 186.59 L611.79 186.83 L612.04 186.94 L612.29 186.85 L612.54 186.8 L612.79 187.12 L613.04 187.66 L613.29 187.97 L613.54 187.89 L613.8 187.77 L614.05 187.95 L614.3 188.29 L614.55 188.4 L614.8 188.22 L615.05 188.15" fill="none" stroke="#123a50" stroke-opacity="0.6" stroke-width="0.5"/>
<text x="534" y="196.96" font-size="3.9" text-anchor="middle" font-weight="bold" fill="#151515">0</text>
<text x="560.85" y="196.96" font-size="3.9" text-anchor="middle" font-weight="bold" fill="#151515">200</text>
<text x="587.7" y="196.96" font-size="3.9" text-anchor="middle" font-weight="bold" fill="#151515">400</text>
<text x="614.55" y="196.96" font-size="3.9" text-anchor="middle" font-weight="bold" fill="#151515">600</text>
<text x="641.4" y="196.96" font-size="3.9" text-anchor="middle" font-weight="bold" fill="#151515">800</text>
<text x="668.25" y="196.96" font-size="3.9" text-anchor="middle" font-weight="bold" fill="#151515">1000</text>
<text x="531.1" y="89.36" font-size="3.5" text-anchor="end" font-weight="bold" fill="#151515">800</text>
<text x="531.1" y="115.61" font-size="3.5" text-anchor="end" font-weight="bold" fill="#151515">600</text>
<text x="531.1" y="141.36" font-size="3.5" text-anchor="end" font-weight="bold" fill="#151515">400</text>
<text x="531.1" y="167.11" font-size="3.5" text-anchor="end" font-weight="bold" fill="#151515">200</text>
<text x="531.1" y="192.61" font-size="3.5" text-anchor="end" font-weight="bold" fill="#151515">0</text>
<path d="M534 190.75 v1.6 M547.42 190.75 v0.9 M560.85 190.75 v1.6 M574.27 190.75 v0.9 M587.7 190.75 v1.6 M601.12 190.75 v0.9 M614.55 190.75 v1.6 M627.97 190.75 v0.9 M641.4 190.75 v1.6 M654.82 190.75 v0.9 M668.25 190.75 v1.6 M533.5 87.75 h-2 M533.5 114 h-2 M533.5 139.75 h-2 M533.5 165.5 h-2 M533.5 190.75 h-2 M533.5 177.88 h-1 M533.5 164.75 h-1 M533.5 151.62 h-1 M533.5 138.5 h-1 M533.5 125.38 h-1 M533.5 112.25 h-1 M533.5 99.12 h-1 M533.5 86 h-1" stroke="#444" stroke-width="0.7" fill="none"/>
<text x="598.4" y="202.2" font-size="3.4" text-anchor="middle" fill="#d8d8d8">PI-A</text>
<path d="M563 77.75 H576.5 M563 76.15 V79.35 M576.5 76.15 V79.35" stroke="#5e5e5e" stroke-width="0.65" fill="none"/>
<rect x="574.45" y="83.42" width="7.35" height="5.4" rx="1.4" fill="#f3f3f3" stroke="#cfcfcf" stroke-width="0.6"/><text x="578.12" y="87.46" font-size="3.85" text-anchor="middle" fill="#3a3a3a">G1</text>
<path d="M576.5 160.5 H601.5 M576.5 158.9 V162.1 M601.5 158.9 V162.1" stroke="#5e5e5e" stroke-width="0.65" fill="none"/>
<rect x="584.71" y="152.3" width="4.59" height="5.4" rx="1.4" fill="#f3f3f3" stroke="#cfcfcf" stroke-width="0.6"/><text x="587" y="156.33" font-size="3.85" text-anchor="middle" fill="#3a3a3a">S</text>
<path d="M534.5 166.75 H563.25 M534.5 165.15 V168.35 M563.25 165.15 V168.35" stroke="#5e5e5e" stroke-width="0.65" fill="none"/>
<rect x="540.7" y="158.67" width="15.6" height="5.4" rx="1.4" fill="#f3f3f3" stroke="#cfcfcf" stroke-width="0.6"/><text x="548.5" y="162.71" font-size="3.85" text-anchor="middle" fill="#3a3a3a">sub-G1</text>
<path d="M600.75 180.75 H615 M600.75 179.15 V182.35 M615 179.15 V182.35" stroke="#5e5e5e" stroke-width="0.65" fill="none"/>
<rect x="604.95" y="172.05" width="7.35" height="5.4" rx="1.4" fill="#f3f3f3" stroke="#cfcfcf" stroke-width="0.6"/><text x="608.62" y="176.08" font-size="3.85" text-anchor="middle" fill="#3a3a3a">G2</text>
<clipPath id="c66"><rect x="102.5" y="296.7" width="63.75" height="1.6"/></clipPath>
<text clip-path="url(#c66)" x="104.5" y="299" font-size="4" textLength="59.75" lengthAdjust="spacingAndGlyphs" fill="#999">Single Cells : PI-A subset</text>
<rect x="66.25" y="299.5" width="136.75" height="116.4" fill="none" stroke="#8a8a8a" stroke-width="0.95"/>
<path d="M68 416.45 L68 415.9 L68.25 415.75 L68.5 415.6 L68.75 415.45 L69 415.3 L69.25 415.15 L69.5 415 L69.75 414.85 L70 414.7 L70.25 414.62 L70.5 414.54 L70.75 414.47 L71.01 414.39 L71.26 414.31 L71.51 414.23 L71.76 414.15 L72.01 414.08 L72.26 414 L72.51 413.92 L72.76 413.93 L73.01 413.63 L73.26 413.66 L73.51 413.75 L73.76 413.56 L74.01 413.16 L74.26 412.98 L74.51 413.2 L74.76 413.65 L75.01 413.76 L75.26 413.6 L75.51 413.58 L75.76 413.84 L76.01 414.07 L76.27 413.9 L76.52 413.99 L76.77 414.08 L77.02 414.16 L77.27 414.25 L77.52 414.33 L77.77 414.42 L78.02 414.5 L78.27 414.54 L78.52 414.58 L78.77 414.61 L79.02 414.65 L79.27 414.69 L79.52 414.73 L79.77 414.76 L80.02 414.8 L80.27 414.84 L80.52 414.88 L80.77 414.91 L81.02 414.95 L81.27 414.99 L81.52 415.03 L81.78 415.06 L82.03 415.1 L82.28 415.09 L82.53 415.08 L82.78 415.07 L83.03 415.06 L83.28 415.05 L83.53 415.04 L83.78 415.03 L84.03 415.02 L84.28 415.01 L84.53 415 L84.78 414.99 L85.03 414.98 L85.28 414.97 L85.53 414.95 L85.78 414.94 L86.03 414.93 L86.28 414.92 L86.53 414.91 L86.78 414.9 L87.03 414.89 L87.28 414.88 L87.54 414.86 L87.79 414.85 L88.04 414.84 L88.29 414.83 L88.54 414.81 L88.79 414.8 L89.04 414.78 L89.29 414.77 L89.54 414.75 L89.79 414.74 L90.04 414.71 L90.29 414.67 L90.54 414.61 L90.79 414.56 L91.04 414.51 L91.29 414.46 L91.54 414.4 L91.79 414.35 L92.04 414.29 L92.29 414.23 L92.54 414.17 L92.8 414.1 L93.05 414.04 L93.3 413.97 L93.55 413.9 L93.8 413.82 L94.05 413.74 L94.3 413.66 L94.55 413.57 L94.8 413.46 L95.05 413.35 L95.3 413.22 L95.55 413 L95.55 416.45 Z" fill="#3a18b4"/>
<path d="M95.5 416.45 L95.5 413.09 L95.75 412.92 L96 412.5 L96.25 411.87 L96.5 411.39 L96.75 411.03 L97 410.29 L97.26 408.76 L97.51 406.55 L97.76 403.94 L98.01 400.82 L98.26 396.68 L98.51 391.2 L98.76 384.6 L99.01 377.27 L99.26 369.24 L99.51 360.25 L99.76 350.39 L100.02 340.32 L100.27 330.9 L100.52 322.56 L100.77 315.4 L101.02 309.74 L101.27 306.27 L101.52 305.59 L101.77 305.88 L102.02 305.98 L102.27 305.7 L102.52 305.43 L102.77 305.58 L103.02 306.4 L103.28 307.49 L103.53 308.79 L103.78 310.7 L104.03 313.49 L104.28 316.9 L104.53 320.48 L104.78 324.12 L105.03 328.14 L105.28 332.7 L105.53 337.46 L105.78 341.96 L106.03 346.21 L106.29 350.58 L106.54 355.27 L106.79 359.97 L107.04 364.27 L107.29 368.2 L107.54 372.14 L107.79 376.19 L108.04 379.98 L108.29 383.12 L108.54 385.75 L108.79 388.29 L109.05 390.91 L109.3 393.29 L109.55 395.13 L109.8 396.62 L110.05 398.19 L110.3 399.9 L110.55 401.34 L110.55 416.45 Z" fill="#c617b3"/>
<path d="M110.5 416.45 L110.5 401.11 L110.75 402.03 L111 402.51 L111.25 403.01 L111.5 403.69 L111.75 404.23 L112 404.36 L112.25 404.27 L112.5 404.39 L112.76 404.83 L113.01 405.2 L113.26 405.43 L113.51 405.44 L113.76 405.62 L114.01 406.03 L114.26 406.29 L114.51 406.17 L114.76 405.95 L115.01 406.05 L115.26 406.49 L115.51 406.84 L115.76 406.86 L116.01 406.77 L116.26 406.93 L116.51 407.28 L116.76 407.42 L117.01 407.18 L117.27 406.89 L117.52 406.95 L117.77 407.29 L118.02 407.5 L118.27 407.42 L118.52 407.34 L118.77 407.58 L119.02 407.99 L119.27 408.11 L119.52 407.85 L119.77 407.6 L120.02 407.68 L120.27 407.98 L120.52 408.07 L120.77 407.91 L121.02 407.86 L121.27 408.18 L121.52 408.62 L121.78 408.73 L122.03 408.49 L122.28 408.26 L122.53 408.36 L122.78 408.57 L123.03 408.51 L123.28 408.23 L123.53 408.15 L123.78 408.47 L124.03 408.86 L124.28 408.91 L124.53 408.67 L124.78 408.54 L125.03 408.71 L125.28 408.88 L125.53 408.73 L125.78 408.4 L126.03 408.33 L126.29 408.65 L126.54 409 L126.79 409.01 L127.04 408.81 L127.29 408.79 L127.54 409.04 L127.79 409.2 L128.04 408.97 L128.29 408.54 L128.54 408.42 L128.79 408.66 L129.04 408.86 L129.29 408.75 L129.54 408.53 L129.79 408.56 L130.04 408.82 L130.29 408.91 L130.54 408.59 L130.8 408.17 L131.05 408.07 L131.3 408.28 L131.55 408.38 L131.8 408.19 L132.05 407.99 L132.3 408.11 L132.55 408.43 L132.8 408.51 L132.8 416.45 Z" fill="#e87d05"/>
<path d="M132.75 416.45 L132.75 408.53 L133 408.25 L133.25 407.82 L133.5 407.66 L133.75 407.79 L134 407.81 L134.26 407.54 L134.51 407.26 L134.76 407.34 L135.01 407.67 L135.26 407.78 L135.51 407.5 L135.76 407.15 L136.01 407.08 L136.26 407.21 L136.51 407.33 L136.76 407.15 L137.02 407.05 L137.27 407.36 L137.52 407.87 L137.77 408.14 L138.02 408.06 L138.27 407.98 L138.52 408.21 L138.77 408.53 L139.02 408.57 L139.27 408.43 L139.52 408.43 L139.78 408.85 L140.03 409.42 L140.28 409.72 L140.53 409.74 L140.78 409.88 L141.03 410.31 L141.28 410.75 L141.53 410.82 L141.78 410.64 L142.03 410.66 L142.28 411.08 L142.53 411.57 L142.79 411.78 L143.04 411.8 L143.29 412.03 L143.54 412.55 L143.79 413 L144.04 413.04 L144.29 412.87 L144.54 412.93 L144.79 413.33 L145.04 413.73 L145.29 413.83 L145.55 414.09 L145.8 414.31 L146.05 414.53 L146.3 414.72 L146.55 414.82 L146.8 414.92 L146.8 416.45 Z" fill="#3391b8"/>
<path d="M146.75 416.45 L146.75 414.9 L147 415 L147.26 415.1 L147.51 415.21 L147.77 415.31 L148.02 415.41 L148.28 415.51 L148.53 415.61 L148.79 415.71 L149.04 415.78 L149.3 415.85 L149.55 415.9 L149.55 416.45 Z" fill="#e8602a"/>
<path d="M110.5 401.11 L110.75 402.03 L111 402.51 L111.25 403.01 L111.5 403.69 L111.75 404.23 L112 404.36 L112.25 404.27 L112.5 404.39 L112.76 404.83 L113.01 405.2 L113.26 405.43 L113.51 405.44 L113.76 405.62 L114.01 406.03 L114.26 406.29 L114.51 406.17 L114.76 405.95 L115.01 406.05 L115.26 406.49 L115.51 406.84 L115.76 406.86 L116.01 406.77 L116.26 406.93 L116.51 407.28 L116.76 407.42 L117.01 407.18 L117.27 406.89 L117.52 406.95 L117.77 407.29 L118.02 407.5 L118.27 407.42 L118.52 407.34 L118.77 407.58 L119.02 407.99 L119.27 408.11 L119.52 407.85 L119.77 407.6 L120.02 407.68 L120.27 407.98 L120.52 408.07 L120.77 407.91 L121.02 407.86 L121.27 408.18 L121.52 408.62 L121.78 408.73 L122.03 408.49 L122.28 408.26 L122.53 408.36 L122.78 408.57 L123.03 408.51 L123.28 408.23 L123.53 408.15 L123.78 408.47 L124.03 408.86 L124.28 408.91 L124.53 408.67 L124.78 408.54 L125.03 408.71 L125.28 408.88 L125.53 408.73 L125.78 408.4 L126.03 408.33 L126.29 408.65 L126.54 409 L126.79 409.01 L127.04 408.81 L127.29 408.79 L127.54 409.04 L127.79 409.2 L128.04 408.97 L128.29 408.54 L128.54 408.42 L128.79 408.66 L129.04 408.86 L129.29 408.75 L129.54 408.53 L129.79 408.56 L130.04 408.82 L130.29 408.91 L130.54 408.59 L130.8 408.17 L131.05 408.07 L131.3 408.28 L131.55 408.38 L131.8 408.19 L132.05 407.99 L132.3 408.11 L132.55 408.43 L132.8 408.51" fill="none" stroke="#5a2a10" stroke-opacity="0.6" stroke-width="0.5"/>
<path d="M132.75 408.53 L133 408.25 L133.25 407.82 L133.5 407.66 L133.75 407.79 L134 407.81 L134.26 407.54 L134.51 407.26 L134.76 407.34 L135.01 407.67 L135.26 407.78 L135.51 407.5 L135.76 407.15 L136.01 407.08 L136.26 407.21 L136.51 407.33 L136.76 407.15 L137.02 407.05 L137.27 407.36 L137.52 407.87 L137.77 408.14 L138.02 408.06 L138.27 407.98 L138.52 408.21 L138.77 408.53 L139.02 408.57 L139.27 408.43 L139.52 408.43 L139.78 408.85 L140.03 409.42 L140.28 409.72 L140.53 409.74 L140.78 409.88 L141.03 410.31 L141.28 410.75 L141.53 410.82 L141.78 410.64 L142.03 410.66 L142.28 411.08 L142.53 411.57 L142.79 411.78 L143.04 411.8 L143.29 412.03 L143.54 412.55 L143.79 413 L144.04 413.04 L144.29 412.87 L144.54 412.93 L144.79 413.33 L145.04 413.73 L145.29 413.83 L145.55 414.09 L145.8 414.31 L146.05 414.53 L146.3 414.72 L146.55 414.82 L146.8 414.92" fill="none" stroke="#123a50" stroke-opacity="0.6" stroke-width="0.5"/>
<text x="66.25" y="422.27" font-size="4.2" text-anchor="middle" font-weight="bold" fill="#151515">0</text>
<text x="93" y="422.27" font-size="4.2" text-anchor="middle" font-weight="bold" fill="#151515">200</text>
<text x="119.75" y="422.27" font-size="4.2" text-anchor="middle" font-weight="bold" fill="#151515">400</text>
<text x="146.5" y="422.27" font-size="4.2" text-anchor="middle" font-weight="bold" fill="#151515">600</text>
<text x="173.25" y="422.27" font-size="4.2" text-anchor="middle" font-weight="bold" fill="#151515">800</text>
<text x="200" y="422.27" font-size="4.2" text-anchor="middle" font-weight="bold" fill="#151515">1000</text>
<text x="63.1" y="324.04" font-size="4" text-anchor="end" font-weight="bold" fill="#151515">800</text>
<text x="63.1" y="347.54" font-size="4" text-anchor="end" font-weight="bold" fill="#151515">600</text>
<text x="63.1" y="371.04" font-size="4" text-anchor="end" font-weight="bold" fill="#151515">400</text>
<text x="63.1" y="394.54" font-size="4" text-anchor="end" font-weight="bold" fill="#151515">200</text>
<text x="63.1" y="417.79" font-size="4" text-anchor="end" font-weight="bold" fill="#151515">0</text>
<path d="M66.25 415.9 v1.6 M79.62 415.9 v0.9 M93 415.9 v1.6 M106.38 415.9 v0.9 M119.75 415.9 v1.6 M133.12 415.9 v0.9 M146.5 415.9 v1.6 M159.88 415.9 v0.9 M173.25 415.9 v1.6 M186.62 415.9 v0.9 M200 415.9 v1.6 M66.25 322.25 h-2 M66.25 345.75 h-2 M66.25 369.25 h-2 M66.25 392.75 h-2 M66.25 415.9 h-2 M66.25 404.25 h-1 M66.25 392.5 h-1 M66.25 380.75 h-1 M66.25 369 h-1 M66.25 357.25 h-1 M66.25 345.5 h-1 M66.25 333.75 h-1 M66.25 322 h-1 M66.25 310.25 h-1" stroke="#444" stroke-width="0.7" fill="none"/>
<text x="130.62" y="427.4" font-size="3.4" text-anchor="middle" fill="#d8d8d8">PI-A</text>
<path d="M95.5 301.5 H110.5 M95.5 299.9 V303.1 M110.5 299.9 V303.1" stroke="#5e5e5e" stroke-width="0.65" fill="none"/>
<rect x="105.2" y="305.3" width="8.1" height="7.15" rx="1.4" fill="#f3f3f3" stroke="#cfcfcf" stroke-width="0.6"/><text x="109.25" y="310.64" font-size="5.1" text-anchor="middle" fill="#3a3a3a">G1</text>
<path d="M110.5 375.75 H133.75 M110.5 374.15 V377.35 M133.75 374.15 V377.35" stroke="#5e5e5e" stroke-width="0.65" fill="none"/>
<rect x="117.46" y="366.42" width="6.08" height="7.15" rx="1.4" fill="#f3f3f3" stroke="#cfcfcf" stroke-width="0.6"/><text x="120.5" y="371.76" font-size="5.1" text-anchor="middle" fill="#3a3a3a">S</text>
<path d="M66.75 392.5 H95.5 M66.75 390.9 V394.1 M95.5 390.9 V394.1" stroke="#5e5e5e" stroke-width="0.65" fill="none"/>
<rect x="72.2" y="383.55" width="20.1" height="7.15" rx="1.4" fill="#f3f3f3" stroke="#cfcfcf" stroke-width="0.6"/><text x="82.25" y="388.89" font-size="5.1" text-anchor="middle" fill="#3a3a3a">sub-G1</text>
<path d="M132.75 404 H146.75 M132.75 402.4 V405.6 M146.75 402.4 V405.6" stroke="#5e5e5e" stroke-width="0.65" fill="none"/>
<rect x="135.95" y="391.92" width="8.35" height="7.15" rx="1.4" fill="#f3f3f3" stroke="#cfcfcf" stroke-width="0.6"/><text x="140.12" y="397.26" font-size="5.1" text-anchor="middle" fill="#3a3a3a">G2</text>
<clipPath id="c223"><rect x="260" y="297.2" width="42" height="1.6"/></clipPath>
<text clip-path="url(#c223)" x="262" y="299.5" font-size="4" textLength="38" lengthAdjust="spacingAndGlyphs" fill="#bdbdbd">Single Cells : PI-A subset</text>
<rect x="223.5" y="299.5" width="138" height="116.5" fill="none" stroke="#8a8a8a" stroke-width="0.95"/>
<path d="M224.5 416.55 L224.5 416 L224.75 415.75 L225 415.5 L225.25 415.25 L225.5 415 L225.75 414.75 L226 414.5 L226.25 414.36 L226.5 414.23 L226.75 414.09 L227 413.52 L227.25 413.61 L227.51 413.83 L227.76 413.76 L228.01 413.42 L228.26 413.2 L228.51 413.27 L228.76 413.34 L229.01 413.3 L229.26 413.02 L229.51 412.95 L229.76 413.28 L230.01 413.68 L230.26 413.79 L230.51 413.71 L230.76 413.83 L231.01 414.04 L231.26 414.16 L231.51 414.27 L231.76 414.39 L232.01 414.5 L232.26 414.54 L232.51 414.58 L232.76 414.61 L233.01 414.65 L233.27 414.69 L233.52 414.73 L233.77 414.76 L234.02 414.8 L234.27 414.84 L234.52 414.88 L234.77 414.92 L235.02 414.95 L235.27 414.99 L235.52 415.03 L235.77 415.07 L236.02 415.1 L236.27 415.09 L236.52 415.08 L236.77 415.07 L237.02 415.06 L237.27 415.05 L237.52 415.04 L237.77 415.03 L238.02 415.02 L238.27 415.01 L238.52 415.01 L238.77 415 L239.03 414.99 L239.28 414.98 L239.53 414.97 L239.78 414.96 L240.03 414.95 L240.28 414.94 L240.53 414.93 L240.78 414.92 L241.03 414.91 L241.28 414.9 L241.53 414.89 L241.78 414.88 L242.03 414.87 L242.28 414.86 L242.53 414.86 L242.78 414.85 L243.03 414.84 L243.28 414.83 L243.53 414.82 L243.78 414.81 L244.03 414.79 L244.28 414.75 L244.53 414.71 L244.79 414.67 L245.04 414.63 L245.29 414.59 L245.54 414.55 L245.79 414.51 L246.04 414.47 L246.29 414.43 L246.54 414.39 L246.79 414.35 L247.04 414.31 L247.29 414.27 L247.54 414.22 L247.79 414.18 L248.04 414.13 L248.29 414.08 L248.54 414.02 L248.79 413.96 L249.04 413.54 L249.29 413.56 L249.54 413.88 L249.79 414.07 L250.04 413.85 L250.29 413.46 L250.55 413.28 L250.8 413.28 L251.05 413.07 L251.3 412.47 L251.55 411.79 L251.8 411.4 L252.05 411.2 L252.3 410.73 L252.55 409.78 L252.8 408.63 L253.05 407.59 L253.3 406.53 L253.3 416.55 Z" fill="#3a18b4"/>
<path d="M253.25 416.55 L253.25 406.77 L253.5 405.36 L253.75 403.37 L254 401.12 L254.25 399 L254.5 396.96 L254.76 394.53 L255.01 391.49 L255.26 388.08 L255.51 384.53 L255.76 380.62 L256.01 375.8 L256.26 369.81 L256.51 362.93 L256.76 355.51 L257.01 347.52 L257.26 338.82 L257.51 329.76 L257.77 321.28 L258.02 314.36 L258.27 309.44 L258.52 306.62 L258.77 305.87 L259.02 305.56 L259.27 305.59 L259.52 305.76 L259.77 305.68 L260.02 307.51 L260.27 310.73 L260.52 314.62 L260.78 318.86 L261.03 322.99 L261.28 327.02 L261.53 331.33 L261.78 336.08 L262.03 340.92 L262.28 345.48 L262.53 349.82 L262.78 354.33 L263.03 359.09 L263.28 363.7 L263.53 367.75 L263.79 371.34 L264.04 374.85 L264.29 378.37 L264.54 381.55 L264.79 384.11 L265.04 386.28 L265.29 388.52 L265.54 390.89 L265.79 393 L266.04 394.57 L266.29 395.81 L266.54 397.14 L266.8 398.54 L267.05 399.63 L267.3 400.23 L267.55 400.65 L267.8 401.32 L268.05 402.21 L268.05 416.55 Z" fill="#c617b3"/>
<path d="M268 416.55 L268 402.04 L268.25 402.77 L268.5 403.12 L268.75 403.32 L269 403.74 L269.25 404.37 L269.5 404.8 L269.75 404.79 L270 404.63 L270.25 404.75 L270.51 405.14 L270.76 405.42 L271.01 405.4 L271.26 405.34 L271.51 405.6 L271.76 406.08 L272.01 406.32 L272.26 406.23 L272.51 406.06 L272.76 406.18 L273.01 406.51 L273.26 406.65 L273.51 406.5 L273.76 406.41 L274.01 406.71 L274.26 407.19 L274.51 407.41 L274.76 407.26 L275.02 407.09 L275.27 407.22 L275.52 407.47 L275.77 407.45 L276.02 407.16 L276.27 407.01 L276.52 407.27 L276.77 407.67 L277.02 407.8 L277.27 407.62 L277.52 407.51 L277.77 407.69 L278.02 407.9 L278.27 407.78 L278.52 407.4 L278.77 407.22 L279.02 407.44 L279.27 407.79 L279.53 407.85 L279.78 407.68 L280.03 407.67 L280.28 407.96 L280.53 408.19 L280.78 408.04 L281.03 407.66 L281.28 407.51 L281.53 407.73 L281.78 407.97 L282.03 407.92 L282.28 407.74 L282.53 407.8 L282.78 408.15 L283.03 408.38 L283.28 408.2 L283.53 407.83 L283.78 407.73 L284.04 407.93 L284.29 408.06 L284.54 407.9 L284.79 407.69 L285.04 407.8 L285.29 408.15 L285.54 408.32 L285.79 408.09 L286.04 407.74 L286.29 407.66 L286.54 407.8 L286.79 407.8 L287.04 407.48 L287.29 407.21 L287.54 407.31 L287.79 407.66 L288.04 407.8 L288.29 407.57 L288.55 407.3 L288.8 407.32 L289.05 407.48 L289.3 407.39 L289.55 407 L289.8 406.7 L290.05 406.82 L290.3 407.14 L290.55 407.22 L290.8 406.99 L290.8 416.55 Z" fill="#e87d05"/>
<path d="M290.75 416.55 L290.75 407.04 L291 406.85 L291.25 406.95 L291.5 407.19 L291.75 407.16 L292 406.79 L292.26 406.47 L292.51 406.55 L292.76 406.84 L293.01 406.93 L293.26 406.75 L293.51 406.63 L293.76 406.84 L294.01 407.12 L294.26 407.05 L294.51 406.66 L294.76 406.38 L295.02 406.48 L295.27 406.83 L295.52 406.93 L295.77 406.83 L296.02 406.9 L296.27 407.32 L296.52 407.74 L296.77 407.79 L297.02 407.55 L297.27 407.46 L297.52 407.7 L297.78 407.98 L298.03 407.98 L298.28 408.01 L298.53 408.31 L298.78 408.96 L299.03 409.56 L299.28 409.78 L299.53 409.77 L299.78 409.96 L300.03 410.43 L300.29 410.82 L300.54 410.88 L300.79 410.87 L301.04 411.19 L301.29 411.84 L301.54 412.38 L301.79 412.56 L302.04 412.6 L302.29 412.9 L302.54 413.4 L302.79 413.72 L303.05 413.68 L303.3 414.02 L303.55 414.3 L303.8 414.57 L304.05 414.82 L304.3 414.95 L304.3 416.55 Z" fill="#3391b8"/>
<path d="M304.25 416.55 L304.25 414.92 L304.5 415.05 L304.76 415.18 L305.01 415.3 L305.27 415.43 L305.52 415.56 L305.78 415.69 L306.03 415.8 L306.29 415.86 L306.54 415.91 L306.8 415.96 L307.05 416 L307.05 416.55 Z" fill="#e8602a"/>
<path d="M268 402.04 L268.25 402.77 L268.5 403.12 L268.75 403.32 L269 403.74 L269.25 404.37 L269.5 404.8 L269.75 404.79 L270 404.63 L270.25 404.75 L270.51 405.14 L270.76 405.42 L271.01 405.4 L271.26 405.34 L271.51 405.6 L271.76 406.08 L272.01 406.32 L272.26 406.23 L272.51 406.06 L272.76 406.18 L273.01 406.51 L273.26 406.65 L273.51 406.5 L273.76 406.41 L274.01 406.71 L274.26 407.19 L274.51 407.41 L274.76 407.26 L275.02 407.09 L275.27 407.22 L275.52 407.47 L275.77 407.45 L276.02 407.16 L276.27 407.01 L276.52 407.27 L276.77 407.67 L277.02 407.8 L277.27 407.62 L277.52 407.51 L277.77 407.69 L278.02 407.9 L278.27 407.78 L278.52 407.4 L278.77 407.22 L279.02 407.44 L279.27 407.79 L279.53 407.85 L279.78 407.68 L280.03 407.67 L280.28 407.96 L280.53 408.19 L280.78 408.04 L281.03 407.66 L281.28 407.51 L281.53 407.73 L281.78 407.97 L282.03 407.92 L282.28 407.74 L282.53 407.8 L282.78 408.15 L283.03 408.38 L283.28 408.2 L283.53 407.83 L283.78 407.73 L284.04 407.93 L284.29 408.06 L284.54 407.9 L284.79 407.69 L285.04 407.8 L285.29 408.15 L285.54 408.32 L285.79 408.09 L286.04 407.74 L286.29 407.66 L286.54 407.8 L286.79 407.8 L287.04 407.48 L287.29 407.21 L287.54 407.31 L287.79 407.66 L288.04 407.8 L288.29 407.57 L288.55 407.3 L288.8 407.32 L289.05 407.48 L289.3 407.39 L289.55 407 L289.8 406.7 L290.05 406.82 L290.3 407.14 L290.55 407.22 L290.8 406.99" fill="none" stroke="#5a2a10" stroke-opacity="0.6" stroke-width="0.5"/>
<path d="M290.75 407.04 L291 406.85 L291.25 406.95 L291.5 407.19 L291.75 407.16 L292 406.79 L292.26 406.47 L292.51 406.55 L292.76 406.84 L293.01 406.93 L293.26 406.75 L293.51 406.63 L293.76 406.84 L294.01 407.12 L294.26 407.05 L294.51 406.66 L294.76 406.38 L295.02 406.48 L295.27 406.83 L295.52 406.93 L295.77 406.83 L296.02 406.9 L296.27 407.32 L296.52 407.74 L296.77 407.79 L297.02 407.55 L297.27 407.46 L297.52 407.7 L297.78 407.98 L298.03 407.98 L298.28 408.01 L298.53 408.31 L298.78 408.96 L299.03 409.56 L299.28 409.78 L299.53 409.77 L299.78 409.96 L300.03 410.43 L300.29 410.82 L300.54 410.88 L300.79 410.87 L301.04 411.19 L301.29 411.84 L301.54 412.38 L301.79 412.56 L302.04 412.6 L302.29 412.9 L302.54 413.4 L302.79 413.72 L303.05 413.68 L303.3 414.02 L303.55 414.3 L303.8 414.57 L304.05 414.82 L304.3 414.95" fill="none" stroke="#123a50" stroke-opacity="0.6" stroke-width="0.5"/>
<text x="223.75" y="422.47" font-size="4.2" text-anchor="middle" font-weight="bold" fill="#151515">0</text>
<text x="250.6" y="422.47" font-size="4.2" text-anchor="middle" font-weight="bold" fill="#151515">200</text>
<text x="277.45" y="422.47" font-size="4.2" text-anchor="middle" font-weight="bold" fill="#151515">400</text>
<text x="304.3" y="422.47" font-size="4.2" text-anchor="middle" font-weight="bold" fill="#151515">600</text>
<text x="331.15" y="422.47" font-size="4.2" text-anchor="middle" font-weight="bold" fill="#151515">800</text>
<text x="358" y="422.47" font-size="4.2" text-anchor="middle" font-weight="bold" fill="#151515">1000</text>
<text x="220.1" y="316.86" font-size="4.2" text-anchor="end" font-weight="bold" fill="#151515">1000</text>
<text x="220.1" y="337.11" font-size="4.2" text-anchor="end" font-weight="bold" fill="#151515">800</text>
<text x="220.1" y="357.36" font-size="4.2" text-anchor="end" font-weight="bold" fill="#151515">600</text>
<text x="220.1" y="377.61" font-size="4.2" text-anchor="end" font-weight="bold" fill="#151515">400</text>
<text x="220.1" y="397.86" font-size="4.2" text-anchor="end" font-weight="bold" fill="#151515">200</text>
<text x="220.1" y="418.06" font-size="4.2" text-anchor="end" font-weight="bold" fill="#151515">0</text>
<path d="M223.75 416 v1.6 M237.18 416 v0.9 M250.6 416 v1.6 M264.02 416 v0.9 M277.45 416 v1.6 M290.88 416 v0.9 M304.3 416 v1.6 M317.73 416 v0.9 M331.15 416 v1.6 M344.57 416 v0.9 M358 416 v1.6 M223.5 315 h-2 M223.5 335.25 h-2 M223.5 355.5 h-2 M223.5 375.75 h-2 M223.5 396 h-2 M223.5 416 h-2 M223.5 406.07 h-1 M223.5 395.95 h-1 M223.5 385.82 h-1 M223.5 375.7 h-1 M223.5 365.57 h-1 M223.5 355.45 h-1 M223.5 345.32 h-1 M223.5 335.2 h-1 M223.5 325.07 h-1 M223.5 314.95 h-1 M223.5 304.82 h-1" stroke="#444" stroke-width="0.7" fill="none"/>
<text x="288.5" y="427.6" font-size="3.4" text-anchor="middle" fill="#d8d8d8">PI-A</text>
<path d="M253.25 301.75 H268 M253.25 300.15 V303.35 M268 300.15 V303.35" stroke="#5e5e5e" stroke-width="0.65" fill="none"/>
<rect x="262.7" y="308.17" width="8.6" height="7.15" rx="1.4" fill="#f3f3f3" stroke="#cfcfcf" stroke-width="0.6"/><text x="267" y="313.51" font-size="5.1" text-anchor="middle" fill="#3a3a3a">G1</text>
<path d="M267.75 376 H291.5 M267.75 374.4 V377.6 M291.5 374.4 V377.6" stroke="#5e5e5e" stroke-width="0.65" fill="none"/>
<rect x="275.21" y="366.42" width="6.08" height="7.15" rx="1.4" fill="#f3f3f3" stroke="#cfcfcf" stroke-width="0.6"/><text x="278.25" y="371.76" font-size="5.1" text-anchor="middle" fill="#3a3a3a">S</text>
<path d="M224.5 392.5 H253.25 M224.5 390.9 V394.1 M253.25 390.9 V394.1" stroke="#5e5e5e" stroke-width="0.65" fill="none"/>
<rect x="230.2" y="383.55" width="20.1" height="7.15" rx="1.4" fill="#f3f3f3" stroke="#cfcfcf" stroke-width="0.6"/><text x="240.25" y="388.89" font-size="5.1" text-anchor="middle" fill="#3a3a3a">sub-G1</text>
<path d="M290.75 404 H304.25 M290.75 402.4 V405.6 M304.25 402.4 V405.6" stroke="#5e5e5e" stroke-width="0.65" fill="none"/>
<rect x="293.45" y="391.92" width="8.35" height="7.15" rx="1.4" fill="#f3f3f3" stroke="#cfcfcf" stroke-width="0.6"/><text x="297.62" y="397.26" font-size="5.1" text-anchor="middle" fill="#3a3a3a">G2</text>
<clipPath id="c378"><rect x="414" y="298.2" width="44" height="1.6"/></clipPath>
<text clip-path="url(#c378)" x="416" y="300.5" font-size="4" textLength="40" lengthAdjust="spacingAndGlyphs" fill="#bdbdbd">Single Cells : PI-A subset</text>
<rect x="378.75" y="300.5" width="136.5" height="117" fill="none" stroke="#8a8a8a" stroke-width="0.95"/>
<path d="M380.5 418.05 L380.5 417.5 L380.75 417.25 L381 417 L381.25 416.75 L381.5 416.5 L381.75 416.38 L382 416.27 L382.25 416.16 L382.5 416.04 L382.75 415.93 L383 415.81 L383.25 415.7 L383.51 415.75 L383.76 415.81 L384.01 415.86 L384.26 415.91 L384.51 415.97 L384.76 416.02 L385.01 416.07 L385.26 416.13 L385.51 416.18 L385.76 416.23 L386.01 416.29 L386.26 416.34 L386.51 416.39 L386.76 416.45 L387.01 416.5 L387.26 416.51 L387.51 416.51 L387.76 416.52 L388.01 416.53 L388.26 416.53 L388.51 416.54 L388.76 416.55 L389.02 416.55 L389.27 416.56 L389.52 416.57 L389.77 416.58 L390.02 416.58 L390.27 416.59 L390.52 416.6 L390.77 416.6 L391.02 416.61 L391.27 416.62 L391.52 416.62 L391.77 416.63 L392.02 416.63 L392.27 416.64 L392.52 416.65 L392.77 416.65 L393.02 416.66 L393.27 416.67 L393.52 416.67 L393.77 416.68 L394.02 416.68 L394.27 416.66 L394.52 416.64 L394.78 416.63 L395.03 416.61 L395.28 416.59 L395.53 416.57 L395.78 416.55 L396.03 416.53 L396.28 416.51 L396.53 416.49 L396.78 416.47 L397.03 416.45 L397.28 416.43 L397.53 416.41 L397.78 416.38 L398.03 416.36 L398.28 416.34 L398.53 416.31 L398.78 416.28 L399.03 416.26 L399.28 416.23 L399.53 416.2 L399.78 416.17 L400.03 416.13 L400.29 416.1 L400.54 416.06 L400.79 416.02 L401.04 415.98 L401.29 415.94 L401.54 415.89 L401.79 415.84 L402.04 415.78 L402.29 415.7 L402.54 415.61 L402.79 415.51 L403.04 415.41 L403.29 415.31 L403.54 415.2 L403.79 415.08 L404.04 414.95 L404.29 414.82 L404.54 414.68 L404.79 414.52 L405.04 414.36 L405.29 414.18 L405.54 413.99 L405.8 413.79 L406.05 413.59 L406.3 413.44 L406.55 413.27 L406.8 413.08 L407.05 412.86 L407.3 412.62 L407.55 412.35 L407.8 412.05 L408.05 411.72 L408.3 411.34 L408.55 410.92 L408.55 418.05 Z" fill="#3a18b4"/>
<path d="M408.5 418.05 L408.5 411.01 L408.75 410.56 L409 410.04 L409.25 409.46 L409.5 408.82 L409.75 408.12 L410.01 407.34 L410.26 406.47 L410.51 405.51 L410.76 404.45 L411.01 403.26 L411.26 401.95 L411.51 400.47 L411.76 398.82 L412.01 396.96 L412.26 394.85 L412.51 392.45 L412.76 389.72 L413.02 386.6 L413.27 383.05 L413.52 379.01 L413.77 374.45 L414.02 369.35 L414.27 363.69 L414.52 357.48 L414.77 350.77 L415.02 343.59 L415.27 336 L415.52 328.04 L415.77 319.74 L416.03 311.1 L416.28 306.69 L416.53 306.72 L416.78 306.75 L417.03 306.74 L417.28 306.72 L417.53 312.38 L417.78 320.03 L418.03 327.43 L418.28 334.57 L418.53 341.42 L418.78 347.92 L419.04 354.03 L419.29 359.71 L419.54 364.94 L419.79 369.7 L420.04 374.01 L420.29 377.89 L420.54 381.36 L420.79 384.46 L421.04 387.24 L421.29 389.73 L421.54 391.98 L421.79 394 L422.05 395.84 L422.3 397.51 L422.55 399.04 L422.8 400.43 L423.05 401.65 L423.3 402.53 L423.3 418.05 Z" fill="#c617b3"/>
<path d="M423.25 418.05 L423.25 402.36 L423.5 403.16 L423.75 403.86 L424 404.15 L424.25 404.8 L424.5 405.68 L424.75 406.33 L425 406.53 L425.25 406.55 L425.5 406.79 L425.76 407.2 L426.01 407.4 L426.26 407.25 L426.51 407.09 L426.76 407.28 L427.01 407.72 L427.26 408.23 L427.51 408.36 L427.76 408.42 L428.01 408.75 L428.26 409.2 L428.51 409.37 L428.76 409.21 L429.01 409.11 L429.26 409.41 L429.51 409.9 L429.76 410.16 L430.01 410.11 L430.27 410.12 L430.52 410.41 L430.77 410.76 L431.02 410.77 L431.27 410.45 L431.52 410.26 L431.77 410.45 L432.02 410.78 L432.27 410.85 L432.52 410.69 L432.77 410.69 L433.02 411.01 L433.27 411.32 L433.52 411.24 L433.77 410.88 L434.02 410.69 L434.27 410.85 L434.52 411.06 L434.78 410.99 L435.03 410.76 L435.28 410.78 L435.53 411.14 L435.78 411.43 L436.03 411.33 L436.28 410.99 L436.53 410.86 L436.78 411.02 L437.03 411.13 L437.28 410.93 L437.53 410.65 L437.78 410.69 L438.03 411.07 L438.28 411.35 L438.53 411.25 L438.78 410.99 L439.04 410.97 L439.29 411.18 L439.54 411.24 L439.79 410.96 L440.04 410.67 L440.29 410.74 L440.54 411.12 L440.79 411.35 L441.04 411.23 L441.29 411.04 L441.54 411.13 L441.79 411.38 L442.04 411.39 L442.29 411.05 L442.54 410.74 L442.79 410.83 L443.04 411.16 L443.29 411.3 L443.55 411.14 L443.8 411.03 L444.05 411.23 L444.3 411.52 L444.55 411.5 L444.8 411.14 L445.05 410.85 L445.3 410.94 L445.55 411.21 L445.8 411.22 L445.8 418.05 Z" fill="#e87d05"/>
<path d="M445.75 418.05 L445.75 411.26 L446 410.98 L446.25 410.76 L446.5 410.88 L446.75 411.14 L447 411.09 L447.26 410.66 L447.51 410.28 L447.76 410.23 L448.01 410.34 L448.26 410.31 L448.51 410.04 L448.76 409.94 L449.01 410.22 L449.26 410.58 L449.51 410.6 L449.77 410.29 L450.02 410.08 L450.27 410.19 L450.52 410.34 L450.77 410.2 L451.02 409.87 L451.27 409.78 L451.52 410.09 L451.77 410.42 L452.02 410.41 L452.27 410.15 L452.53 410.05 L452.78 410.24 L453.03 410.36 L453.28 410.19 L453.53 409.89 L453.78 409.89 L454.03 410.27 L454.28 410.61 L454.53 410.62 L454.78 410.48 L455.03 410.57 L455.29 410.9 L455.54 411.07 L455.79 410.85 L456.04 410.53 L456.29 410.62 L456.54 411.34 L456.79 411.96 L457.04 412.28 L457.29 412.55 L457.54 413.14 L457.8 413.91 L458.05 414.43 L458.3 414.57 L458.55 414.66 L458.8 415.09 L459.05 415.73 L459.05 418.05 Z" fill="#3391b8"/>
<path d="M459 418.05 L459 415.7 L459.25 415.83 L459.51 415.97 L459.76 416.1 L460.01 416.24 L460.27 416.37 L460.52 416.51 L460.77 416.64 L461.02 416.78 L461.28 416.91 L461.53 417.05 L461.78 417.18 L462.04 417.31 L462.29 417.36 L462.54 417.41 L462.8 417.46 L463.05 417.5 L463.05 418.05 Z" fill="#e8602a"/>
<path d="M423.25 402.36 L423.5 403.16 L423.75 403.86 L424 404.15 L424.25 404.8 L424.5 405.68 L424.75 406.33 L425 406.53 L425.25 406.55 L425.5 406.79 L425.76 407.2 L426.01 407.4 L426.26 407.25 L426.51 407.09 L426.76 407.28 L427.01 407.72 L427.26 408.23 L427.51 408.36 L427.76 408.42 L428.01 408.75 L428.26 409.2 L428.51 409.37 L428.76 409.21 L429.01 409.11 L429.26 409.41 L429.51 409.9 L429.76 410.16 L430.01 410.11 L430.27 410.12 L430.52 410.41 L430.77 410.76 L431.02 410.77 L431.27 410.45 L431.52 410.26 L431.77 410.45 L432.02 410.78 L432.27 410.85 L432.52 410.69 L432.77 410.69 L433.02 411.01 L433.27 411.32 L433.52 411.24 L433.77 410.88 L434.02 410.69 L434.27 410.85 L434.52 411.06 L434.78 410.99 L435.03 410.76 L435.28 410.78 L435.53 411.14 L435.78 411.43 L436.03 411.33 L436.28 410.99 L436.53 410.86 L436.78 411.02 L437.03 411.13 L437.28 410.93 L437.53 410.65 L437.78 410.69 L438.03 411.07 L438.28 411.35 L438.53 411.25 L438.78 410.99 L439.04 410.97 L439.29 411.18 L439.54 411.24 L439.79 410.96 L440.04 410.67 L440.29 410.74 L440.54 411.12 L440.79 411.35 L441.04 411.23 L441.29 411.04 L441.54 411.13 L441.79 411.38 L442.04 411.39 L442.29 411.05 L442.54 410.74 L442.79 410.83 L443.04 411.16 L443.29 411.3 L443.55 411.14 L443.8 411.03 L444.05 411.23 L444.3 411.52 L444.55 411.5 L444.8 411.14 L445.05 410.85 L445.3 410.94 L445.55 411.21 L445.8 411.22" fill="none" stroke="#5a2a10" stroke-opacity="0.6" stroke-width="0.5"/>
<path d="M445.75 411.26 L446 410.98 L446.25 410.76 L446.5 410.88 L446.75 411.14 L447 411.09 L447.26 410.66 L447.51 410.28 L447.76 410.23 L448.01 410.34 L448.26 410.31 L448.51 410.04 L448.76 409.94 L449.01 410.22 L449.26 410.58 L449.51 410.6 L449.77 410.29 L450.02 410.08 L450.27 410.19 L450.52 410.34 L450.77 410.2 L451.02 409.87 L451.27 409.78 L451.52 410.09 L451.77 410.42 L452.02 410.41 L452.27 410.15 L452.53 410.05 L452.78 410.24 L453.03 410.36 L453.28 410.19 L453.53 409.89 L453.78 409.89 L454.03 410.27 L454.28 410.61 L454.53 410.62 L454.78 410.48 L455.03 410.57 L455.29 410.9 L455.54 411.07 L455.79 410.85 L456.04 410.53 L456.29 410.62 L456.54 411.34 L456.79 411.96 L457.04 412.28 L457.29 412.55 L457.54 413.14 L457.8 413.91 L458.05 414.43 L458.3 414.57 L458.55 414.66 L458.8 415.09 L459.05 415.73" fill="none" stroke="#123a50" stroke-opacity="0.6" stroke-width="0.5"/>
<text x="379.25" y="423.57" font-size="4.2" text-anchor="middle" font-weight="bold" fill="#151515">0</text>
<text x="405.75" y="423.57" font-size="4.2" text-anchor="middle" font-weight="bold" fill="#151515">200</text>
<text x="432.25" y="423.57" font-size="4.2" text-anchor="middle" font-weight="bold" fill="#151515">400</text>
<text x="458.75" y="423.57" font-size="4.2" text-anchor="middle" font-weight="bold" fill="#151515">600</text>
<text x="485.25" y="423.57" font-size="4.2" text-anchor="middle" font-weight="bold" fill="#151515">800</text>
<text x="511.75" y="423.57" font-size="4.2" text-anchor="middle" font-weight="bold" fill="#151515">1000</text>
<text x="375.6" y="313.33" font-size="4.1" text-anchor="end" font-weight="bold" fill="#151515">1000</text>
<text x="375.6" y="334.58" font-size="4.1" text-anchor="end" font-weight="bold" fill="#151515">800</text>
<text x="375.6" y="356.08" font-size="4.1" text-anchor="end" font-weight="bold" fill="#151515">600</text>
<text x="375.6" y="377.33" font-size="4.1" text-anchor="end" font-weight="bold" fill="#151515">400</text>
<text x="375.6" y="398.58" font-size="4.1" text-anchor="end" font-weight="bold" fill="#151515">200</text>
<text x="375.6" y="419.63" font-size="4.1" text-anchor="end" font-weight="bold" fill="#151515">0</text>
<path d="M379.25 417.5 v1.6 M392.5 417.5 v0.9 M405.75 417.5 v1.6 M419 417.5 v0.9 M432.25 417.5 v1.6 M445.5 417.5 v0.9 M458.75 417.5 v1.6 M472 417.5 v0.9 M485.25 417.5 v1.6 M498.5 417.5 v0.9 M511.75 417.5 v1.6 M378.75 311.5 h-2 M378.75 332.75 h-2 M378.75 354.25 h-2 M378.75 375.5 h-2 M378.75 396.75 h-2 M378.75 417.5 h-2 M378.75 407.18 h-1 M378.75 396.55 h-1 M378.75 385.93 h-1 M378.75 375.3 h-1 M378.75 364.68 h-1 M378.75 354.05 h-1 M378.75 343.43 h-1 M378.75 332.8 h-1 M378.75 322.18 h-1 M378.75 311.55 h-1" stroke="#444" stroke-width="0.7" fill="none"/>
<text x="443" y="428.7" font-size="3.4" text-anchor="middle" fill="#d8d8d8">PI-A</text>
<path d="M408.5 302.5 H423.25 M408.5 300.9 V304.1 M423.25 300.9 V304.1" stroke="#5e5e5e" stroke-width="0.65" fill="none"/>
<rect x="420.95" y="307.96" width="8.35" height="6.57" rx="1.4" fill="#f3f3f3" stroke="#cfcfcf" stroke-width="0.6"/><text x="425.12" y="312.87" font-size="4.68" text-anchor="middle" fill="#3a3a3a">G1</text>
<path d="M423 377 H446.25 M423 375.4 V378.6 M446.25 375.4 V378.6" stroke="#5e5e5e" stroke-width="0.65" fill="none"/>
<rect x="430.46" y="367.71" width="5.58" height="6.57" rx="1.4" fill="#f3f3f3" stroke="#cfcfcf" stroke-width="0.6"/><text x="433.25" y="372.62" font-size="4.68" text-anchor="middle" fill="#3a3a3a">S</text>
<path d="M380 393.75 H408.75 M380 392.15 V395.35 M408.75 392.15 V395.35" stroke="#5e5e5e" stroke-width="0.65" fill="none"/>
<rect x="385.7" y="384.71" width="18.85" height="6.57" rx="1.4" fill="#f3f3f3" stroke="#cfcfcf" stroke-width="0.6"/><text x="395.12" y="389.62" font-size="4.68" text-anchor="middle" fill="#3a3a3a">sub-G1</text>
<path d="M445.75 405.25 H459 M445.75 403.65 V406.85 M459 403.65 V406.85" stroke="#5e5e5e" stroke-width="0.65" fill="none"/>
<rect x="448.45" y="393.84" width="8.6" height="6.57" rx="1.4" fill="#f3f3f3" stroke="#cfcfcf" stroke-width="0.6"/><text x="452.75" y="398.75" font-size="4.68" text-anchor="middle" fill="#3a3a3a">G2</text>
<path d="M674.5 296.4 V427" stroke="#e9e9e9" stroke-width="0.9"/>
<rect x="533.5" y="298.9" width="135" height="118.6" fill="none" stroke="#8a8a8a" stroke-width="0.95"/>
<path d="M535 418.05 L535 417.5 L535.25 417.25 L535.5 417 L535.75 416.75 L536 416.5 L536.25 416.25 L536.5 416 L536.75 415.86 L537 415.71 L537.25 415.57 L537.5 415.27 L537.75 415.26 L538.01 415.27 L538.26 414.98 L538.51 414.76 L538.76 414.8 L539.01 415.22 L539.26 415.64 L539.51 415.69 L539.76 415.51 L540.01 415.58 L540.26 415.66 L540.51 415.74 L540.76 415.82 L541.01 415.9 L541.26 415.93 L541.51 415.95 L541.76 415.98 L542.01 416 L542.26 416.03 L542.51 416.05 L542.76 416.08 L543.01 416.1 L543.26 416.13 L543.52 416.15 L543.77 416.18 L544.02 416.2 L544.27 416.23 L544.52 416.25 L544.77 416.28 L545.02 416.3 L545.27 416.25 L545.52 416.21 L545.77 416.17 L546.02 416.13 L546.27 416.08 L546.52 416.04 L546.77 416 L547.02 415.95 L547.27 415.91 L547.52 415.87 L547.77 415.82 L548.02 415.78 L548.27 415.74 L548.52 415.7 L548.77 415.65 L549.03 415.61 L549.28 415.57 L549.53 415.52 L549.78 415.13 L550.03 415.36 L550.28 415.7 L550.53 415.71 L550.78 415.39 L551.03 415.15 L551.28 415.22 L551.53 415.34 L551.78 415.17 L552.03 414.8 L552.28 414.63 L552.53 414.86 L552.78 415.15 L553.03 415.12 L553.28 414.82 L553.53 414.67 L553.78 414.8 L554.03 414.89 L554.28 414.62 L554.54 414.19 L554.79 414.02 L555.04 414.24 L555.29 414.48 L555.54 414.39 L555.79 414.13 L556.04 414.08 L556.29 414.3 L556.54 414.38 L556.79 414.07 L557.04 413.62 L557.29 413.48 L557.54 413.68 L557.79 413.82 L558.04 413.66 L558.29 413.43 L558.54 413.48 L558.79 413.77 L559.04 413.85 L559.29 413.52 L559.54 413.09 L559.79 412.97 L560.05 413.1 L560.3 413.1 L560.55 412.79 L560.8 412.48 L561.05 412.48 L561.3 412.65 L561.55 412.51 L561.8 411.94 L562.05 411.23 L562.3 410.7 L562.55 410.19 L562.8 409.27 L562.8 418.05 Z" fill="#3a18b4"/>
<path d="M562.75 418.05 L562.75 409.49 L563 408.14 L563.25 406.54 L563.5 404.96 L563.75 403.26 L564 400.94 L564.26 397.77 L564.51 394.04 L564.76 390.06 L565.01 385.7 L565.26 380.56 L565.51 374.61 L565.76 368.28 L566.01 361.97 L566.26 355.58 L566.51 348.78 L566.76 341.64 L567.01 334.67 L567.27 328.33 L567.52 322.54 L567.77 317.12 L568.02 312.23 L568.27 308.48 L568.52 306.22 L568.77 305.29 L569.02 305.16 L569.27 304.95 L569.52 304.88 L569.77 305.01 L570.02 305.13 L570.28 306.89 L570.53 309.7 L570.78 313.23 L571.03 317.61 L571.28 322.48 L571.53 327.4 L571.78 332.43 L572.03 337.87 L572.28 343.7 L572.53 349.42 L572.78 354.64 L573.03 359.45 L573.29 364.25 L573.54 369.07 L573.79 373.51 L574.04 377.3 L574.29 380.64 L574.54 383.92 L574.79 387.14 L575.04 389.88 L575.29 391.89 L575.54 393.46 L575.79 395.02 L576.04 396.58 L576.3 397.79 L576.55 398.51 L576.8 399.08 L577.05 399.9 L577.3 400.89 L577.55 401.6 L577.55 418.05 Z" fill="#c617b3"/>
<path d="M577.5 418.05 L577.5 401.5 L577.75 401.85 L578 402 L578.25 402.33 L578.5 402.83 L578.75 403.13 L579 403.06 L579.25 402.92 L579.5 403.14 L579.76 403.63 L580.01 403.97 L580.26 403.96 L580.51 403.89 L580.76 404.08 L581.01 404.42 L581.26 404.5 L581.51 404.2 L581.76 403.91 L582.01 404.01 L582.26 404.52 L582.51 404.83 L582.76 404.86 L583.01 404.93 L583.26 405.33 L583.51 405.81 L583.76 405.98 L584.01 405.78 L584.27 405.65 L584.52 405.87 L584.77 406.26 L585.02 406.4 L585.27 406.32 L585.52 406.39 L585.77 406.81 L586.02 407.28 L586.27 407.39 L586.52 407.18 L586.77 407.07 L587.02 407.3 L587.27 407.59 L587.52 407.59 L587.77 407.42 L588.02 407.47 L588.27 407.83 L588.52 408.19 L588.78 408.18 L589.03 407.91 L589.28 407.8 L589.53 407.98 L589.78 408.11 L590.03 407.92 L590.28 407.59 L590.53 407.57 L590.78 407.92 L591.03 408.23 L591.28 408.18 L591.53 407.96 L591.78 407.95 L592.03 408.19 L592.28 408.28 L592.53 408 L592.78 407.64 L593.03 407.62 L593.29 407.94 L593.54 408.16 L593.79 408.06 L594.04 407.87 L594.29 407.92 L594.54 408.15 L594.79 408.15 L595.04 407.77 L595.29 407.35 L595.54 407.29 L595.79 407.5 L596.04 407.55 L596.29 407.32 L596.54 407.12 L596.79 407.26 L597.04 407.54 L597.29 407.53 L597.54 407.15 L597.8 406.77 L598.05 406.74 L598.3 406.89 L598.55 406.84 L598.8 406.53 L599.05 406.35 L599.3 406.55 L599.55 406.86 L599.8 406.85 L599.8 418.05 Z" fill="#e87d05"/>
<path d="M599.75 418.05 L599.75 406.88 L600 406.6 L600.25 406.31 L600.5 406.32 L600.75 406.49 L601 406.44 L601.26 406.12 L601.51 405.93 L601.76 406.14 L602.01 406.52 L602.26 406.76 L602.51 406.66 L602.76 406.63 L603.01 406.89 L603.26 407.21 L603.51 407.22 L603.77 407 L604.02 406.97 L604.27 407.36 L604.52 407.84 L604.77 408.02 L605.02 407.95 L605.27 408.03 L605.52 408.39 L605.77 408.71 L606.02 408.66 L606.27 408.52 L606.53 408.63 L606.78 409.12 L607.03 409.63 L607.28 409.84 L607.53 409.9 L607.78 410.2 L608.03 410.76 L608.28 411.19 L608.53 411.21 L608.78 411.08 L609.03 411.22 L609.29 411.69 L609.54 412.11 L609.79 412.22 L610.04 412.29 L610.29 412.72 L610.54 413.38 L610.79 413.85 L611.04 413.91 L611.29 413.86 L611.54 414.11 L611.8 414.61 L612.05 414.96 L612.3 415.01 L612.55 415.12 L612.8 415.76 L613.05 416.03 L613.05 418.05 Z" fill="#3391b8"/>
<path d="M613 418.05 L613 416 L613.25 416.15 L613.51 416.29 L613.76 416.44 L614.02 416.59 L614.27 416.73 L614.52 416.88 L614.78 417.03 L615.03 417.17 L615.29 417.31 L615.54 417.38 L615.8 417.45 L616.05 417.5 L616.05 418.05 Z" fill="#e8602a"/>
<path d="M577.5 401.5 L577.75 401.85 L578 402 L578.25 402.33 L578.5 402.83 L578.75 403.13 L579 403.06 L579.25 402.92 L579.5 403.14 L579.76 403.63 L580.01 403.97 L580.26 403.96 L580.51 403.89 L580.76 404.08 L581.01 404.42 L581.26 404.5 L581.51 404.2 L581.76 403.91 L582.01 404.01 L582.26 404.52 L582.51 404.83 L582.76 404.86 L583.01 404.93 L583.26 405.33 L583.51 405.81 L583.76 405.98 L584.01 405.78 L584.27 405.65 L584.52 405.87 L584.77 406.26 L585.02 406.4 L585.27 406.32 L585.52 406.39 L585.77 406.81 L586.02 407.28 L586.27 407.39 L586.52 407.18 L586.77 407.07 L587.02 407.3 L587.27 407.59 L587.52 407.59 L587.77 407.42 L588.02 407.47 L588.27 407.83 L588.52 408.19 L588.78 408.18 L589.03 407.91 L589.28 407.8 L589.53 407.98 L589.78 408.11 L590.03 407.92 L590.28 407.59 L590.53 407.57 L590.78 407.92 L591.03 408.23 L591.28 408.18 L591.53 407.96 L591.78 407.95 L592.03 408.19 L592.28 408.28 L592.53 408 L592.78 407.64 L593.03 407.62 L593.29 407.94 L593.54 408.16 L593.79 408.06 L594.04 407.87 L594.29 407.92 L594.54 408.15 L594.79 408.15 L595.04 407.77 L595.29 407.35 L595.54 407.29 L595.79 407.5 L596.04 407.55 L596.29 407.32 L596.54 407.12 L596.79 407.26 L597.04 407.54 L597.29 407.53 L597.54 407.15 L597.8 406.77 L598.05 406.74 L598.3 406.89 L598.55 406.84 L598.8 406.53 L599.05 406.35 L599.3 406.55 L599.55 406.86 L599.8 406.85" fill="none" stroke="#5a2a10" stroke-opacity="0.6" stroke-width="0.5"/>
<path d="M599.75 406.88 L600 406.6 L600.25 406.31 L600.5 406.32 L600.75 406.49 L601 406.44 L601.26 406.12 L601.51 405.93 L601.76 406.14 L602.01 406.52 L602.26 406.76 L602.51 406.66 L602.76 406.63 L603.01 406.89 L603.26 407.21 L603.51 407.22 L603.77 407 L604.02 406.97 L604.27 407.36 L604.52 407.84 L604.77 408.02 L605.02 407.95 L605.27 408.03 L605.52 408.39 L605.77 408.71 L606.02 408.66 L606.27 408.52 L606.53 408.63 L606.78 409.12 L607.03 409.63 L607.28 409.84 L607.53 409.9 L607.78 410.2 L608.03 410.76 L608.28 411.19 L608.53 411.21 L608.78 411.08 L609.03 411.22 L609.29 411.69 L609.54 412.11 L609.79 412.22 L610.04 412.29 L610.29 412.72 L610.54 413.38 L610.79 413.85 L611.04 413.91 L611.29 413.86 L611.54 414.11 L611.8 414.61 L612.05 414.96 L612.3 415.01 L612.55 415.12 L612.8 415.76 L613.05 416.03" fill="none" stroke="#123a50" stroke-opacity="0.6" stroke-width="0.5"/>
<text x="534" y="423.57" font-size="4.2" text-anchor="middle" font-weight="bold" fill="#151515">0</text>
<text x="560.35" y="423.57" font-size="4.2" text-anchor="middle" font-weight="bold" fill="#151515">200</text>
<text x="586.7" y="423.57" font-size="4.2" text-anchor="middle" font-weight="bold" fill="#151515">400</text>
<text x="613.05" y="423.57" font-size="4.2" text-anchor="middle" font-weight="bold" fill="#151515">600</text>
<text x="639.4" y="423.57" font-size="4.2" text-anchor="middle" font-weight="bold" fill="#151515">800</text>
<text x="665.75" y="423.57" font-size="4.2" text-anchor="middle" font-weight="bold" fill="#151515">1000</text>
<text x="530.1" y="317.93" font-size="3.7" text-anchor="end" font-weight="bold" fill="#151515">800</text>
<text x="530.1" y="343.43" font-size="3.7" text-anchor="end" font-weight="bold" fill="#151515">600</text>
<text x="530.1" y="368.68" font-size="3.7" text-anchor="end" font-weight="bold" fill="#151515">400</text>
<text x="530.1" y="394.08" font-size="3.7" text-anchor="end" font-weight="bold" fill="#151515">200</text>
<text x="530.1" y="419.48" font-size="3.7" text-anchor="end" font-weight="bold" fill="#151515">0</text>
<path d="M534 417.5 v1.6 M547.17 417.5 v0.9 M560.35 417.5 v1.6 M573.52 417.5 v0.9 M586.7 417.5 v1.6 M599.88 417.5 v0.9 M613.05 417.5 v1.6 M626.22 417.5 v0.9 M639.4 417.5 v1.6 M652.57 417.5 v0.9 M665.75 417.5 v1.6 M533.5 316.25 h-2 M533.5 341.75 h-2 M533.5 367 h-2 M533.5 392.4 h-2 M533.5 417.5 h-2 M533.5 405.05 h-1 M533.5 392.3 h-1 M533.5 379.55 h-1 M533.5 366.8 h-1 M533.5 354.05 h-1 M533.5 341.3 h-1 M533.5 328.55 h-1 M533.5 315.8 h-1 M533.5 303.05 h-1" stroke="#444" stroke-width="0.7" fill="none"/>
<text x="597" y="428.7" font-size="3.4" text-anchor="middle" fill="#d8d8d8">PI-A</text>
<path d="M562.75 300.75 H577.5 M562.75 299.15 V302.35 M577.5 299.15 V302.35" stroke="#5e5e5e" stroke-width="0.65" fill="none"/>
<rect x="575.7" y="306.21" width="8.1" height="7.08" rx="1.4" fill="#f3f3f3" stroke="#cfcfcf" stroke-width="0.6"/><text x="579.75" y="311.5" font-size="5.04" text-anchor="middle" fill="#3a3a3a">G1</text>
<path d="M577.5 376.5 H600.5 M577.5 374.9 V378.1 M600.5 374.9 V378.1" stroke="#5e5e5e" stroke-width="0.65" fill="none"/>
<rect x="584.49" y="366.96" width="6.01" height="7.08" rx="1.4" fill="#f3f3f3" stroke="#cfcfcf" stroke-width="0.6"/><text x="587.5" y="372.25" font-size="5.04" text-anchor="middle" fill="#3a3a3a">S</text>
<path d="M534 393.25 H563.25 M534 391.65 V394.85 M563.25 391.65 V394.85" stroke="#5e5e5e" stroke-width="0.65" fill="none"/>
<rect x="540.2" y="384.33" width="19.6" height="7.08" rx="1.4" fill="#f3f3f3" stroke="#cfcfcf" stroke-width="0.6"/><text x="550" y="389.62" font-size="5.04" text-anchor="middle" fill="#3a3a3a">sub-G1</text>
<path d="M599.75 405.25 H613 M599.75 403.65 V406.85 M613 403.65 V406.85" stroke="#5e5e5e" stroke-width="0.65" fill="none"/>
<rect x="602.45" y="393.21" width="8.35" height="7.08" rx="1.4" fill="#f3f3f3" stroke="#cfcfcf" stroke-width="0.6"/><text x="606.62" y="398.5" font-size="5.04" text-anchor="middle" fill="#3a3a3a">G2</text>
</g>
<g filter="url(#bt)" fill="none" stroke="#979797" stroke-width="1.6">
<path d="M35.1 53 V436.9 H674"/>
<path d="M30 61 L35.1 52.7 L40.2 61" stroke-width="1.5" stroke="#8c8c8c"/>
<path d="M665.3 431.8 L674.4 437 L665.3 442.3" stroke-width="1.5" stroke="#8c8c8c"/>
</g>
<g filter="url(#bt)" font-family="'Liberation Serif', serif" fill="#1c1c1c">
<text x="341.5" y="28.2" font-size="16" textLength="36.5" lengthAdjust="spacingAndGlyphs">HT29</text>
<text x="341.6" y="254.1" font-size="15.5" textLength="45.6" lengthAdjust="spacingAndGlyphs">SW480</text>
<text x="118.6" y="61.2" font-size="12.1" textLength="22.4" lengthAdjust="spacingAndGlyphs">Cont</text>
<text x="249.1" y="61.2" font-size="12.1" textLength="64.9" lengthAdjust="spacingAndGlyphs">CB839 10 <tspan font-weight="bold">μ</tspan>M</text>
<text x="405.8" y="61.2" font-size="12.1" textLength="64.8" lengthAdjust="spacingAndGlyphs">CB839 15 <tspan font-weight="bold">μ</tspan>M</text>
<text x="561.5" y="61.2" font-size="12.1" textLength="64.5" lengthAdjust="spacingAndGlyphs">CB839 20 <tspan font-weight="bold">μ</tspan>M</text>
<text x="119" y="287" font-size="12.1" textLength="22.3" lengthAdjust="spacingAndGlyphs">Cont</text>
<text x="249.5" y="287" font-size="12.1" textLength="64.8" lengthAdjust="spacingAndGlyphs">CB839 10 <tspan font-weight="bold">μ</tspan>M</text>
<text x="406.2" y="287" font-size="12.1" textLength="64.5" lengthAdjust="spacingAndGlyphs">CB839 15 <tspan font-weight="bold">μ</tspan>M</text>
<text x="561.5" y="287" font-size="12.1" textLength="64.3" lengthAdjust="spacingAndGlyphs">CB839 20 <tspan font-weight="bold">μ</tspan>M</text>
<text x="333.6" y="449.1" font-size="11.5" textLength="62.1" lengthAdjust="spacingAndGlyphs">DNA content</text>
<text transform="translate(25.7 301) rotate(-90)" font-size="12" textLength="56.4" lengthAdjust="spacingAndGlyphs">Cell number</text>
</g>
</svg>
</body></html>
